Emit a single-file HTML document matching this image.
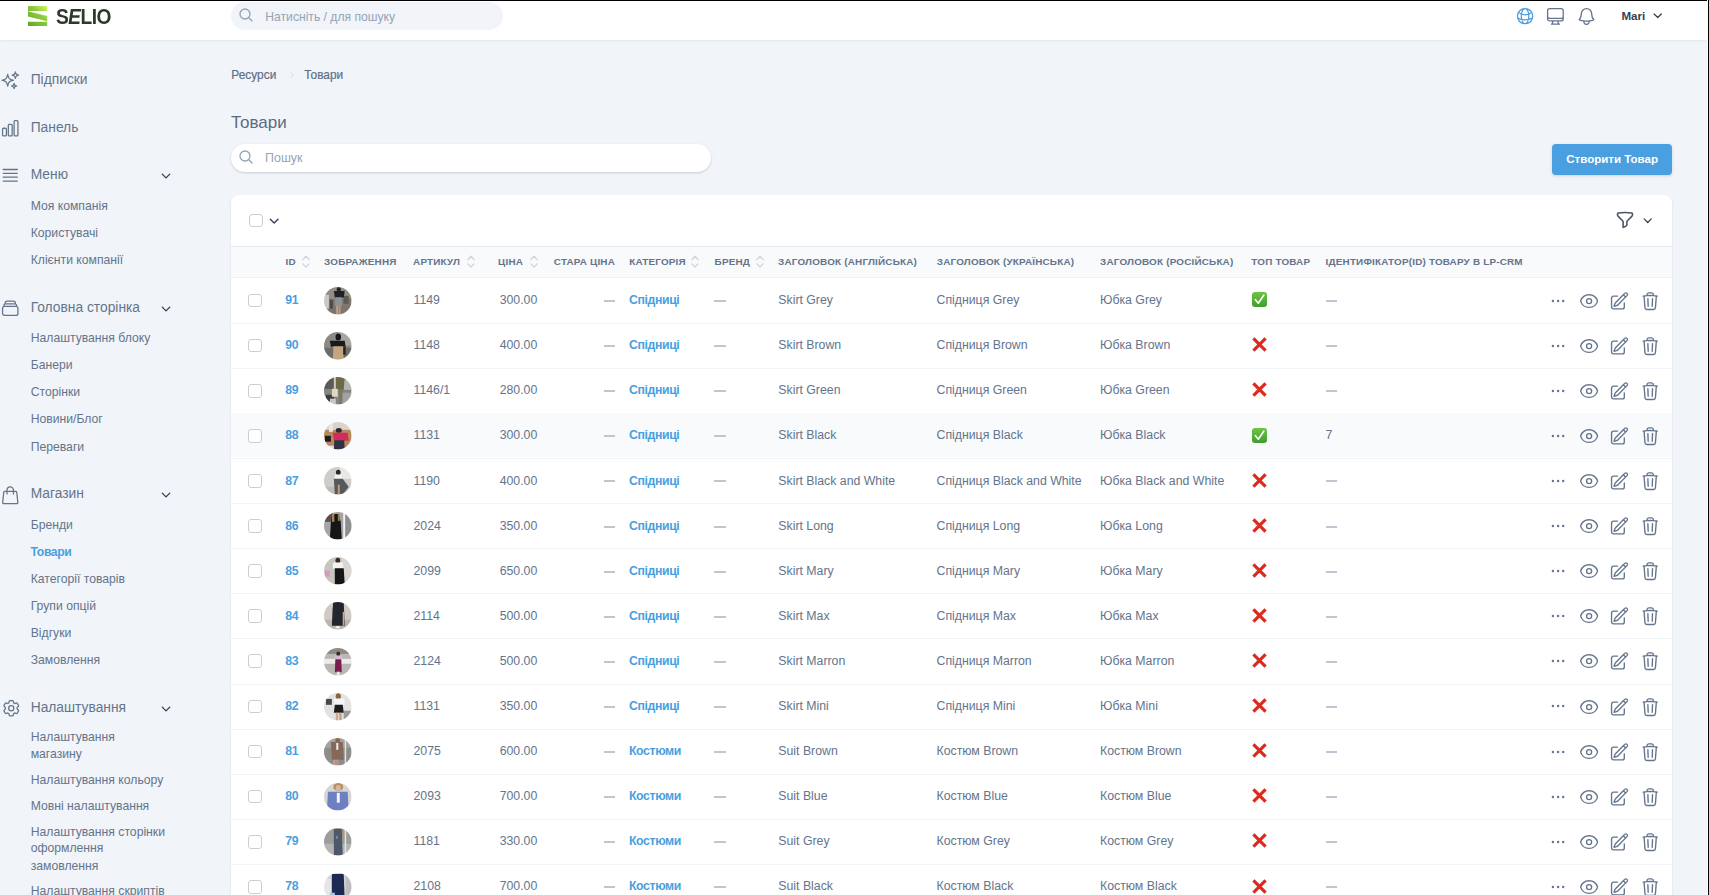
<!DOCTYPE html><html><head><meta charset="utf-8"><style>*{box-sizing:border-box;margin:0;padding:0}
html,body{width:1709px;height:895px;overflow:hidden;background:#f1f5f9;font-family:"Liberation Sans",sans-serif}
.t{position:absolute;white-space:nowrap;line-height:1}
.i{position:absolute;overflow:visible}
.a{position:absolute}
</style></head><body><div class="a" style="left:0;top:0;width:1709px;height:39.5px;background:#fff;box-shadow:0 1px 2px rgba(15,23,42,.06)"></div><svg class="i" style="left:28px;top:6px;width:19.5px;height:20px" viewBox="0 0 19.5 20">
<defs><linearGradient id="lg" x1="0" y1="1" x2="1" y2="0"><stop offset="0" stop-color="#5ea52c"/><stop offset=".6" stop-color="#8fcb3e"/><stop offset="1" stop-color="#d2f56a"/></linearGradient></defs>
<path fill="url(#lg)" d="M0 0H19.2V5H0zM0 5.2L19.2 10V15.2L0 10.4zM0 15.8H19.2V20H0z"/></svg><div class="t" style="left:56.30px;top:5.84px;font-size:21.8px;color:#2c3a29;font-weight:bold;letter-spacing:-0.6px;transform:scaleX(0.88);transform-origin:0 0;">S<span style="display:inline-block;transform:skewX(-10deg)">E</span>LIO</div><div class="a" style="left:231px;top:2px;width:272px;height:27.5px;border-radius:14px;background:#f1f5f9"></div><svg class="i" style="left:238.4px;top:6.6px;width:16px;height:16px;" viewBox="0 0 24 24" fill="none" stroke="#94a3b8" stroke-width="2" stroke-linecap="round" stroke-linejoin="round"><path d="M21 21l-5.197-5.197m0 0A7.5 7.5 0 105.196 5.196a7.5 7.5 0 0010.607 10.607z"/></svg><div class="t" style="left:265.30px;top:10.91px;font-size:12.15px;color:#94a3b8;">Натисніть / для пошуку</div><svg class="i" style="left:1515px;top:6.1px;width:20.2px;height:20.2px;" viewBox="0 0 24 24" fill="none" stroke="#4a9fe0" stroke-width="1.5" stroke-linecap="round" stroke-linejoin="round"><path d="M12 21a9.004 9.004 0 008.716-6.747M12 21a9.004 9.004 0 01-8.716-6.747M12 21c2.485 0 4.5-4.03 4.5-9S14.485 3 12 3m0 18c-2.485 0-4.5-4.03-4.5-9S9.515 3 12 3m0 0a8.997 8.997 0 017.843 4.582M12 3a8.997 8.997 0 00-7.843 4.582m15.686 0A11.953 11.953 0 0112 10.5c-2.998 0-5.74-1.1-7.843-2.918m15.686 0A8.959 8.959 0 0121 12c0 .778-.099 1.533-.284 2.253m0 0A17.919 17.919 0 0112 16.5c-3.162 0-6.133-.815-8.716-2.247m0 0A9.015 9.015 0 013 12c0-1.605.42-3.113 1.157-4.418"/></svg><svg class="i" style="left:1544.85px;top:6.05px;width:20.8px;height:20.8px;" viewBox="0 0 24 24" fill="none" stroke="#64748b" stroke-width="1.5" stroke-linecap="round" stroke-linejoin="round"><path d="M9 17.25v1.007a3 3 0 01-.879 2.122L7.5 21h9l-.621-.621A3 3 0 0115 18.257V17.25m6-12V15a2.25 2.25 0 01-2.25 2.25H5.25A2.25 2.25 0 013 15V5.25m18 0A2.25 2.25 0 0018.75 3H5.25A2.25 2.25 0 003 5.25m18 0V12a2.25 2.25 0 01-2.25 2.25H5.25A2.25 2.25 0 013 12V5.25"/></svg><svg class="i" style="left:1575.8px;top:6.03px;width:21px;height:21px;" viewBox="0 0 24 24" fill="none" stroke="#64748b" stroke-width="1.5" stroke-linecap="round" stroke-linejoin="round"><path d="M14.857 17.082a23.848 23.848 0 005.454-1.31A8.967 8.967 0 0118 9.75v-.7V9A6 6 0 006 9v.75a8.967 8.967 0 01-2.312 6.022c1.733.64 3.56 1.085 5.455 1.31m5.714 0a24.255 24.255 0 01-5.714 0m5.714 0a3 3 0 11-5.714 0"/></svg><div class="t" style="left:1621.40px;top:10.17px;font-size:11.6px;color:#334155;font-weight:bold;">Mari</div><svg class="i" style="left:1651.8px;top:10.3px;width:11.5px;height:11.5px;" viewBox="0 0 24 24" fill="none" stroke="#334155" stroke-width="2.6" stroke-linecap="round" stroke-linejoin="round"><path d="M19.5 8.25l-7.5 7.5-7.5-7.5"/></svg><svg class="i" style="left:0.32px;top:69.9px;width:20.5px;height:20.5px;" viewBox="0 0 24 24" fill="none" stroke="#64748b" stroke-width="1.5" stroke-linecap="round" stroke-linejoin="round"><path d="M9.813 15.904L9 18.75l-.813-2.846a4.5 4.5 0 00-3.09-3.09L2.25 12l2.846-.813a4.5 4.5 0 003.09-3.09L9 5.25l.813 2.846a4.5 4.5 0 003.09 3.09L15.75 12l-2.846.813a4.5 4.5 0 00-3.09 3.09zM18.259 8.715L18 9.75l-.259-1.035a3.375 3.375 0 00-2.455-2.456L14.25 6l1.036-.259a3.375 3.375 0 002.455-2.456L18 2.25l.259 1.035a3.375 3.375 0 002.456 2.456L21.75 6l-1.035.259a3.375 3.375 0 00-2.456 2.456zM16.894 20.567L16.5 21.75l-.394-1.183a2.25 2.25 0 00-1.423-1.423L13.5 18.75l1.183-.394a2.25 2.25 0 001.423-1.423l.394-1.183.394 1.183a2.25 2.25 0 001.423 1.423l1.183.394-1.183.394a2.25 2.25 0 00-1.423 1.423z"/></svg><div class="t" style="left:30.70px;top:72.91px;font-size:13.8px;color:#64748b;">Підписки</div><svg class="i" style="left:0.08px;top:117.8px;width:20.5px;height:20.5px;" viewBox="0 0 24 24" fill="none" stroke="#64748b" stroke-width="1.5" stroke-linecap="round" stroke-linejoin="round"><path d="M3 13.125C3 12.504 3.504 12 4.125 12h2.25c.621 0 1.125.504 1.125 1.125v6.75C7.5 20.496 6.996 21 6.375 21h-2.25A1.125 1.125 0 013 19.875v-6.75zM9.75 8.625c0-.621.504-1.125 1.125-1.125h2.25c.621 0 1.125.504 1.125 1.125v11.25c0 .621-.504 1.125-1.125 1.125h-2.25a1.125 1.125 0 01-1.125-1.125V8.625zM16.5 4.125c0-.621.504-1.125 1.125-1.125h2.25C20.496 3 21 3.504 21 4.125v15.75c0 .621-.504 1.125-1.125 1.125h-2.25a1.125 1.125 0 01-1.125-1.125V4.125z"/></svg><div class="t" style="left:30.70px;top:120.51px;font-size:13.8px;color:#64748b;">Панель</div><svg class="i" style="left:0.44px;top:164.8px;width:20.5px;height:20.5px;" viewBox="0 0 24 24" fill="none" stroke="#64748b" stroke-width="1.5" stroke-linecap="round" stroke-linejoin="round"><path d="M3.75 5.25h16.5m-16.5 4.5h16.5m-16.5 4.5h16.5m-16.5 4.5h16.5"/></svg><div class="t" style="left:30.70px;top:167.91px;font-size:13.8px;color:#64748b;">Меню</div><svg class="i" style="left:160.05px;top:169.9px;width:12px;height:12px;" viewBox="0 0 24 24" fill="none" stroke="#334155" stroke-width="2.8" stroke-linecap="round" stroke-linejoin="round"><path d="M19.5 8.25l-7.5 7.5-7.5-7.5"/></svg><div class="t" style="left:30.70px;top:199.67px;font-size:12.2px;color:#64748b;">Моя компанія</div><div class="t" style="left:30.70px;top:227.07px;font-size:12.2px;color:#64748b;">Користувачі</div><div class="t" style="left:30.70px;top:254.07px;font-size:12.2px;color:#64748b;">Клієнти компанії</div><svg class="i" style="left:0.28px;top:297.8px;width:20.5px;height:20.5px;" viewBox="0 0 24 24" fill="none" stroke="#64748b" stroke-width="1.5" stroke-linecap="round" stroke-linejoin="round"><path d="M6 6.878V6a2.25 2.25 0 012.25-2.25h7.5A2.25 2.25 0 0118 6v.878m-12 0c.235-.083.487-.128.75-.128h10.5c.263 0 .515.045.75.128m-12 0A2.25 2.25 0 004.5 9v.878m13.5-3A2.25 2.25 0 0119.5 9v.878m0 0a2.246 2.246 0 00-.75-.128H5.25c-.263 0-.515.045-.75.128m15 0A2.25 2.25 0 0121 12v6a2.25 2.25 0 01-2.25 2.25H5.25A2.25 2.25 0 013 18v-6c0-.98.626-1.813 1.5-2.122"/></svg><div class="t" style="left:30.70px;top:300.81px;font-size:13.8px;color:#64748b;">Головна сторінка</div><svg class="i" style="left:160.05px;top:302.79999999999995px;width:12px;height:12px;" viewBox="0 0 24 24" fill="none" stroke="#334155" stroke-width="2.8" stroke-linecap="round" stroke-linejoin="round"><path d="M19.5 8.25l-7.5 7.5-7.5-7.5"/></svg><div class="t" style="left:30.70px;top:331.87px;font-size:12.2px;color:#64748b;">Налаштування блоку</div><div class="t" style="left:30.70px;top:359.17px;font-size:12.2px;color:#64748b;">Банери</div><div class="t" style="left:30.70px;top:385.97px;font-size:12.2px;color:#64748b;">Сторінки</div><div class="t" style="left:30.70px;top:413.27px;font-size:12.2px;color:#64748b;">Новини/Блог</div><div class="t" style="left:30.70px;top:440.67px;font-size:12.2px;color:#64748b;">Переваги</div><svg class="i" style="left:0.15px;top:484.7px;width:20.5px;height:20.5px;" viewBox="0 0 24 24" fill="none" stroke="#64748b" stroke-width="1.5" stroke-linecap="round" stroke-linejoin="round"><path d="M15.75 10.5V6a3.75 3.75 0 10-7.5 0v4.5m11.356-1.993l1.263 12c.07.665-.45 1.243-1.119 1.243H4.25a1.125 1.125 0 01-1.12-1.243l1.264-12A1.125 1.125 0 015.513 7.5h12.974c.576 0 1.059.435 1.119 1.007z"/></svg><div class="t" style="left:30.70px;top:486.81px;font-size:13.8px;color:#64748b;">Магазин</div><svg class="i" style="left:160.05px;top:488.79999999999995px;width:12px;height:12px;" viewBox="0 0 24 24" fill="none" stroke="#334155" stroke-width="2.8" stroke-linecap="round" stroke-linejoin="round"><path d="M19.5 8.25l-7.5 7.5-7.5-7.5"/></svg><div class="t" style="left:30.70px;top:518.97px;font-size:12.2px;color:#64748b;">Бренди</div><div class="t" style="left:30.60px;top:545.77px;font-size:12.2px;color:#4a9fe0;font-weight:bold;letter-spacing:-0.4px;">Товари</div><div class="t" style="left:30.70px;top:572.97px;font-size:12.2px;color:#64748b;">Категорії товарів</div><div class="t" style="left:30.70px;top:599.77px;font-size:12.2px;color:#64748b;">Групи опцій</div><div class="t" style="left:30.70px;top:627.37px;font-size:12.2px;color:#64748b;">Відгуки</div><div class="t" style="left:30.70px;top:654.37px;font-size:12.2px;color:#64748b;">Замовлення</div><svg class="i" style="left:0.53px;top:697.9px;width:20.5px;height:20.5px;" viewBox="0 0 24 24" fill="none" stroke="#64748b" stroke-width="1.5" stroke-linecap="round" stroke-linejoin="round"><path d="M9.594 3.94c.09-.542.56-.94 1.11-.94h2.593c.55 0 1.02.398 1.11.94l.213 1.281c.063.374.313.686.645.87.074.04.147.083.22.127.324.196.72.257 1.075.124l1.217-.456a1.125 1.125 0 011.37.49l1.296 2.247a1.125 1.125 0 01-.26 1.431l-1.003.827c-.293.24-.438.613-.431.992a6.759 6.759 0 010 .255c-.007.378.138.75.43.99l1.005.828c.424.35.534.954.26 1.43l-1.298 2.247a1.125 1.125 0 01-1.369.491l-1.217-.456c-.355-.133-.75-.072-1.076.124a6.57 6.57 0 01-.22.128c-.331.183-.581.495-.644.869l-.213 1.28c-.09.543-.56.941-1.11.941h-2.594c-.55 0-1.02-.398-1.11-.94l-.213-1.281c-.062-.374-.312-.686-.644-.87a6.52 6.52 0 01-.22-.127c-.325-.196-.72-.257-1.076-.124l-1.217.456a1.125 1.125 0 01-1.369-.49l-1.297-2.247a1.125 1.125 0 01.26-1.431l1.004-.827c.292-.24.437-.613.43-.992a6.932 6.932 0 010-.255c.007-.378-.138-.75-.43-.99l-1.004-.828a1.125 1.125 0 01-.26-1.43l1.297-2.247a1.125 1.125 0 011.37-.491l1.216.456c.356.133.751.072 1.076-.124.072-.044.146-.087.22-.128.332-.183.582-.495.644-.869l.214-1.281zM15 12a3 3 0 11-6 0 3 3 0 016 0z"/></svg><div class="t" style="left:30.70px;top:701.01px;font-size:13.8px;color:#64748b;">Налаштування</div><svg class="i" style="left:160.05px;top:703.0px;width:12px;height:12px;" viewBox="0 0 24 24" fill="none" stroke="#334155" stroke-width="2.8" stroke-linecap="round" stroke-linejoin="round"><path d="M19.5 8.25l-7.5 7.5-7.5-7.5"/></svg><div class="t" style="left:30.70px;top:731.07px;font-size:12.2px;color:#64748b;">Налаштування</div><div class="t" style="left:30.70px;top:747.97px;font-size:12.2px;color:#64748b;">магазину</div><div class="t" style="left:30.70px;top:773.57px;font-size:12.2px;color:#64748b;">Налаштування кольору</div><div class="t" style="left:30.70px;top:800.17px;font-size:12.2px;color:#64748b;">Мовні налаштування</div><div class="t" style="left:30.70px;top:825.77px;font-size:12.2px;color:#64748b;">Налаштування сторінки</div><div class="t" style="left:30.70px;top:842.47px;font-size:12.2px;color:#64748b;">оформлення</div><div class="t" style="left:30.70px;top:859.57px;font-size:12.2px;color:#64748b;">замовлення</div><div class="t" style="left:30.70px;top:885.27px;font-size:12.2px;color:#64748b;">Налаштування скриптів</div><div class="t" style="left:231.30px;top:69.92px;font-size:11.9px;color:#5f6f86;-webkit-text-stroke:0.2px #5f6f86;">Ресурси</div><svg class="i" style="left:287.5px;top:70.5px;width:8px;height:8px;" viewBox="0 0 24 24" fill="none" stroke="#cbd5e1" stroke-width="2.5" stroke-linecap="round" stroke-linejoin="round"><path d="M8.25 4.5l7.5 7.5-7.5 7.5"/></svg><div class="t" style="left:304.20px;top:69.62px;font-size:11.9px;color:#5f6f86;-webkit-text-stroke:0.2px #5f6f86;">Товари</div><div class="t" style="left:230.90px;top:114.10px;font-size:17px;color:#5b6b82;">Товари</div><div class="a" style="left:231px;top:144.4px;width:480.4px;height:27.2px;border-radius:14px;background:#fff;box-shadow:0 1px 3px rgba(15,23,42,.12),0 1px 2px rgba(15,23,42,.06)"></div><svg class="i" style="left:238.4px;top:148.9px;width:16px;height:16px;" viewBox="0 0 24 24" fill="none" stroke="#94a3b8" stroke-width="2" stroke-linecap="round" stroke-linejoin="round"><path d="M21 21l-5.197-5.197m0 0A7.5 7.5 0 105.196 5.196a7.5 7.5 0 0010.607 10.607z"/></svg><div class="t" style="left:265.10px;top:151.60px;font-size:12.4px;color:#94a3b8;">Пошук</div><div class="a" style="left:1552.3px;top:143.8px;width:119.5px;height:30.9px;border-radius:4px;background:#4a9fe0;box-shadow:0 1px 3px rgba(15,23,42,.15)"></div><div class="t" style="left:1566.30px;top:153.84px;font-size:11.52px;color:#fff;font-weight:bold;">Створити Товар</div><div class="a" style="left:231px;top:195px;width:1441px;height:720px;border-radius:8px;background:#fff;box-shadow:0 1px 3px rgba(15,23,42,.08),0 1px 2px rgba(15,23,42,.04);overflow:hidden"><div class="a" style="left:0;top:50.5px;width:100%;height:32px;background:#f8fafc;border-top:1px solid #e5e9ef;border-bottom:1px solid #eef2f6"></div></div><div class="a" style="left:249.0px;top:213.6px;width:13.8px;height:13.8px;border:1.3px solid #cbcfd4;border-radius:3px;background:#fff"></div><svg class="i" style="left:268.4px;top:215.2px;width:12.3px;height:12.3px;" viewBox="0 0 24 24" fill="none" stroke="#334155" stroke-width="2.6" stroke-linecap="round" stroke-linejoin="round"><path d="M19.5 8.25l-7.5 7.5-7.5-7.5"/></svg><svg class="i" style="left:1615px;top:209.8px;width:20px;height:20px;" viewBox="0 0 24 24" fill="none" stroke="#4b5563" stroke-width="1.9" stroke-linecap="round" stroke-linejoin="round"><path d="M12 3c2.755 0 5.455.232 8.083.678.533.09.917.556.917 1.096v1.044a2.25 2.25 0 01-.659 1.591l-5.432 5.432a2.25 2.25 0 00-.659 1.591v2.927a2.25 2.25 0 01-1.244 2.013L9.75 21v-6.568a2.25 2.25 0 00-.659-1.591L3.659 7.409A2.25 2.25 0 013 5.818V4.774c0-.54.384-1.006.917-1.096A48.32 48.32 0 0112 3z"/></svg><svg class="i" style="left:1641.6px;top:215.2px;width:11.45px;height:11.45px;" viewBox="0 0 24 24" fill="none" stroke="#334155" stroke-width="2.6" stroke-linecap="round" stroke-linejoin="round"><path d="M19.5 8.25l-7.5 7.5-7.5-7.5"/></svg><div class="t" style="left:285.50px;top:256.91px;font-size:9.9px;color:#64748b;font-weight:bold;letter-spacing:0.2px;">ID</div><svg class="i" style="left:302.3px;top:255px;width:8px;height:13px" viewBox="0 0 8 13" fill="none" stroke="#cbd5e1" stroke-width="1.3" stroke-linecap="round" stroke-linejoin="round"><path d="M.9 4.5L4 1.3 7.1 4.5M.9 8.9L4 12 7.1 8.9"/></svg><div class="t" style="left:324.00px;top:256.91px;font-size:9.9px;color:#64748b;font-weight:bold;letter-spacing:0.2px;">ЗОБРАЖЕННЯ</div><div class="t" style="left:413.10px;top:256.91px;font-size:9.9px;color:#64748b;font-weight:bold;letter-spacing:0.2px;">АРТИКУЛ</div><svg class="i" style="left:467.2px;top:255px;width:8px;height:13px" viewBox="0 0 8 13" fill="none" stroke="#cbd5e1" stroke-width="1.3" stroke-linecap="round" stroke-linejoin="round"><path d="M.9 4.5L4 1.3 7.1 4.5M.9 8.9L4 12 7.1 8.9"/></svg><div class="t" style="left:498.10px;top:256.91px;font-size:9.9px;color:#64748b;font-weight:bold;letter-spacing:0.2px;">ЦІНА</div><svg class="i" style="left:530.2px;top:255px;width:8px;height:13px" viewBox="0 0 8 13" fill="none" stroke="#cbd5e1" stroke-width="1.3" stroke-linecap="round" stroke-linejoin="round"><path d="M.9 4.5L4 1.3 7.1 4.5M.9 8.9L4 12 7.1 8.9"/></svg><div class="t" style="left:553.80px;top:256.91px;font-size:9.9px;color:#64748b;font-weight:bold;letter-spacing:0.2px;">СТАРА ЦІНА</div><div class="t" style="left:629.20px;top:256.91px;font-size:9.9px;color:#64748b;font-weight:bold;letter-spacing:0.2px;">КАТЕГОРІЯ</div><svg class="i" style="left:691px;top:255px;width:8px;height:13px" viewBox="0 0 8 13" fill="none" stroke="#cbd5e1" stroke-width="1.3" stroke-linecap="round" stroke-linejoin="round"><path d="M.9 4.5L4 1.3 7.1 4.5M.9 8.9L4 12 7.1 8.9"/></svg><div class="t" style="left:714.60px;top:256.91px;font-size:9.9px;color:#64748b;font-weight:bold;letter-spacing:0.2px;">БРЕНД</div><svg class="i" style="left:756.1px;top:255px;width:8px;height:13px" viewBox="0 0 8 13" fill="none" stroke="#cbd5e1" stroke-width="1.3" stroke-linecap="round" stroke-linejoin="round"><path d="M.9 4.5L4 1.3 7.1 4.5M.9 8.9L4 12 7.1 8.9"/></svg><div class="t" style="left:778.10px;top:256.91px;font-size:9.9px;color:#64748b;font-weight:bold;letter-spacing:0.2px;">ЗАГОЛОВОК (АНГЛІЙСЬКА)</div><div class="t" style="left:936.80px;top:256.91px;font-size:9.9px;color:#64748b;font-weight:bold;letter-spacing:0.2px;">ЗАГОЛОВОК (УКРАЇНСЬКА)</div><div class="t" style="left:1100.00px;top:256.91px;font-size:9.9px;color:#64748b;font-weight:bold;letter-spacing:0.2px;">ЗАГОЛОВОК (РОСІЙСЬКА)</div><div class="t" style="left:1251.30px;top:256.91px;font-size:9.9px;color:#64748b;font-weight:bold;letter-spacing:0.2px;">ТОП ТОВАР</div><div class="t" style="left:1325.60px;top:256.91px;font-size:9.9px;color:#64748b;font-weight:bold;letter-spacing:0.2px;">ІДЕНТИФІКАТОР(ID) ТОВАРУ В LP-CRM</div><div class="a" style="left:231px;top:322.70px;width:1441px;height:1px;background:#f1f4f8"></div><div class="a" style="left:248.1px;top:293.6px;width:13.8px;height:13.8px;border:1.3px solid #cbcfd4;border-radius:3px;background:#fff"></div><div class="t" style="left:285.20px;top:294.18px;font-size:12.3px;color:#4a9fe0;font-weight:bold;letter-spacing:-0.3px;">91</div><svg class="i" style="left:324px;top:286.70px;width:27.6px;height:27.6px" viewBox="0 0 28 28"><defs><clipPath id="c0"><circle cx="14" cy="14" r="14"/></clipPath><filter id="f0" x="-10%" y="-10%" width="120%" height="120%"><feGaussianBlur stdDeviation="0.45"/></filter></defs><g clip-path="url(#c0)"><g filter="url(#f0)"><rect x="0" y="0" width="28" height="28" fill="#7b766d"/><rect x="0" y="0" width="28" height="12" fill="#928e84"/><rect x="0" y="8" width="5" height="14" fill="#c9c9c9"/><rect x="20" y="9" width="5" height="8" fill="#5f5c56"/><ellipse cx="15" cy="2.5" rx="2.2" ry="2.6" fill="#2a2220"/><path d="M10 4h11l-1 7h-9z" fill="#1e2128"/><path d="M11.5 10.5h6.5l.5 8.5h-7.5z" fill="#8e9398"/><rect x="12.5" y="19" width="2" height="9" fill="#c6a38c"/><rect x="15" y="19" width="2" height="9" fill="#b8947e"/><rect x="6" y="13" width="3" height="9" fill="#4c4b48"/></g></g></svg><div class="t" style="left:413.50px;top:294.18px;font-size:12.3px;color:#64748b;">1149</div><div class="t" style="left:499.70px;top:294.18px;font-size:12.3px;color:#64748b;">300.00</div><div class="a" style="left:603.7px;top:300px;width:11.6px;height:2px;background:#bfc6d1"></div><div class="t" style="left:629.00px;top:294.18px;font-size:12.3px;color:#4a9fe0;font-weight:bold;letter-spacing:-0.39px;">Спідниці</div><div class="a" style="left:714.0px;top:300px;width:11.6px;height:2px;background:#bfc6d1"></div><div class="t" style="left:778.30px;top:294.18px;font-size:12.3px;color:#64748b;">Skirt Grey</div><div class="t" style="left:936.50px;top:294.18px;font-size:12.3px;color:#64748b;">Спідниця Grey</div><div class="t" style="left:1100.00px;top:294.18px;font-size:12.3px;color:#64748b;">Юбка Grey</div><svg class="i" style="left:1252px;top:292.20px;width:15px;height:15px" viewBox="0 0 15 15"><defs><linearGradient id="gg0" x1="0" y1="0" x2="0" y2="1"><stop offset="0" stop-color="#6cc545"/><stop offset="1" stop-color="#3f9d2c"/></linearGradient></defs><rect x="0" y="0" width="15" height="15" rx="3" fill="url(#gg0)"/><path d="M3.3 7.6L6.3 11.3L11.8 3.2" fill="none" stroke="#fff" stroke-width="1.6" stroke-linecap="round" stroke-linejoin="round"/></svg><div class="a" style="left:1325.7px;top:300px;width:11.6px;height:2px;background:#bfc6d1"></div><svg class="i" style="left:1550px;top:298.50px;width:16px;height:4px" viewBox="0 0 16 4" fill="#64748b"><circle cx="2.9" cy="2" r="1.2"/><circle cx="8.1" cy="2" r="1.2"/><circle cx="13.2" cy="2" r="1.2"/></svg><svg class="i" style="left:1579.05px;top:290.64px;width:20.2px;height:20.2px;" viewBox="0 0 24 24" fill="none" stroke="#64748b" stroke-width="1.6" stroke-linecap="round" stroke-linejoin="round"><path d="M2.036 12.322a1.012 1.012 0 010-.639C3.423 7.51 7.36 4.5 12 4.5c4.638 0 8.573 3.007 9.963 7.178.07.207.07.431 0 .639C20.577 16.49 16.64 19.5 12 19.5c-4.638 0-8.573-3.007-9.963-7.178zM15 12a3 3 0 11-6 0 3 3 0 016 0z"/></svg><svg class="i" style="left:1608.99px;top:290.63px;width:20.4px;height:20.4px;" viewBox="0 0 24 24" fill="none" stroke="#64748b" stroke-width="1.6" stroke-linecap="round" stroke-linejoin="round"><path d="M16.862 4.487l1.687-1.688a1.875 1.875 0 112.652 2.652L10.582 16.07a4.5 4.5 0 01-1.897 1.13L6 18l.8-2.685a4.5 4.5 0 011.13-1.897l8.932-8.931zm0 0L19.5 7.125M18 14v4.75A2.25 2.25 0 0115.75 21H5.25A2.25 2.25 0 013 18.75V8.25A2.25 2.25 0 015.25 6H10"/></svg><svg class="i" style="left:1639.85px;top:290.6px;width:20.4px;height:20.4px;" viewBox="0 0 24 24" fill="none" stroke="#64748b" stroke-width="1.6" stroke-linecap="round" stroke-linejoin="round"><path d="M14.74 9l-.346 9m-4.788 0L9.26 9m9.968-3.21c.342.052.682.107 1.022.166m-1.022-.165L18.16 19.673a2.25 2.25 0 01-2.244 2.077H8.084a2.25 2.25 0 01-2.244-2.077L4.772 5.79m14.456 0a48.108 48.108 0 00-3.478-.397m-12 .562c.34-.059.68-.114 1.022-.165m0 0a48.11 48.11 0 013.478-.397m7.5 0v-.916c0-1.18-.91-2.164-2.09-2.201a51.964 51.964 0 00-3.32 0c-1.18.037-2.09 1.022-2.09 2.201v.916m7.5 0a48.667 48.667 0 00-7.5 0"/></svg><div class="a" style="left:231px;top:367.80px;width:1441px;height:1px;background:#f1f4f8"></div><div class="a" style="left:248.1px;top:338.70000000000005px;width:13.8px;height:13.8px;border:1.3px solid #cbcfd4;border-radius:3px;background:#fff"></div><div class="t" style="left:285.20px;top:339.28px;font-size:12.3px;color:#4a9fe0;font-weight:bold;letter-spacing:-0.3px;">90</div><svg class="i" style="left:324px;top:331.80px;width:27.6px;height:27.6px" viewBox="0 0 28 28"><defs><clipPath id="c1"><circle cx="14" cy="14" r="14"/></clipPath><filter id="f1" x="-10%" y="-10%" width="120%" height="120%"><feGaussianBlur stdDeviation="0.45"/></filter></defs><g clip-path="url(#c1)"><g filter="url(#f1)"><rect x="0" y="0" width="28" height="28" fill="#8b8984"/><rect x="14" y="0" width="14" height="14" fill="#a8a6a1"/><rect x="0" y="16" width="28" height="12" fill="#6e6c68"/><ellipse cx="14.5" cy="5" rx="2.8" ry="3.6" fill="#1c1718"/><path d="M6 9h15l1 6H7z" fill="#191a1f"/><path d="M9.5 14.5h10l.5 13.5h-11z" fill="#c4a57e"/><rect x="19.5" y="15" width="2.5" height="8" fill="#24252a"/></g></g></svg><div class="t" style="left:413.50px;top:339.28px;font-size:12.3px;color:#64748b;">1148</div><div class="t" style="left:499.70px;top:339.28px;font-size:12.3px;color:#64748b;">400.00</div><div class="a" style="left:603.7px;top:345px;width:11.6px;height:2px;background:#bfc6d1"></div><div class="t" style="left:629.00px;top:339.28px;font-size:12.3px;color:#4a9fe0;font-weight:bold;letter-spacing:-0.39px;">Спідниці</div><div class="a" style="left:714.0px;top:345px;width:11.6px;height:2px;background:#bfc6d1"></div><div class="t" style="left:778.30px;top:339.28px;font-size:12.3px;color:#64748b;">Skirt Brown</div><div class="t" style="left:936.50px;top:339.28px;font-size:12.3px;color:#64748b;">Спідниця Brown</div><div class="t" style="left:1100.00px;top:339.28px;font-size:12.3px;color:#64748b;">Юбка Brown</div><svg class="i" style="left:1252px;top:337.30px;width:15px;height:15px" viewBox="0 0 15 15"><path d="M1.4 1.4L13.6 13.6M13.6 1.4L1.4 13.6" stroke="#dc2b1e" stroke-width="3.2"/></svg><div class="a" style="left:1325.7px;top:345px;width:11.6px;height:2px;background:#bfc6d1"></div><svg class="i" style="left:1550px;top:343.60px;width:16px;height:4px" viewBox="0 0 16 4" fill="#64748b"><circle cx="2.9" cy="2" r="1.2"/><circle cx="8.1" cy="2" r="1.2"/><circle cx="13.2" cy="2" r="1.2"/></svg><svg class="i" style="left:1579.05px;top:335.74px;width:20.2px;height:20.2px;" viewBox="0 0 24 24" fill="none" stroke="#64748b" stroke-width="1.6" stroke-linecap="round" stroke-linejoin="round"><path d="M2.036 12.322a1.012 1.012 0 010-.639C3.423 7.51 7.36 4.5 12 4.5c4.638 0 8.573 3.007 9.963 7.178.07.207.07.431 0 .639C20.577 16.49 16.64 19.5 12 19.5c-4.638 0-8.573-3.007-9.963-7.178zM15 12a3 3 0 11-6 0 3 3 0 016 0z"/></svg><svg class="i" style="left:1608.99px;top:335.73px;width:20.4px;height:20.4px;" viewBox="0 0 24 24" fill="none" stroke="#64748b" stroke-width="1.6" stroke-linecap="round" stroke-linejoin="round"><path d="M16.862 4.487l1.687-1.688a1.875 1.875 0 112.652 2.652L10.582 16.07a4.5 4.5 0 01-1.897 1.13L6 18l.8-2.685a4.5 4.5 0 011.13-1.897l8.932-8.931zm0 0L19.5 7.125M18 14v4.75A2.25 2.25 0 0115.75 21H5.25A2.25 2.25 0 013 18.75V8.25A2.25 2.25 0 015.25 6H10"/></svg><svg class="i" style="left:1639.85px;top:335.70000000000005px;width:20.4px;height:20.4px;" viewBox="0 0 24 24" fill="none" stroke="#64748b" stroke-width="1.6" stroke-linecap="round" stroke-linejoin="round"><path d="M14.74 9l-.346 9m-4.788 0L9.26 9m9.968-3.21c.342.052.682.107 1.022.166m-1.022-.165L18.16 19.673a2.25 2.25 0 01-2.244 2.077H8.084a2.25 2.25 0 01-2.244-2.077L4.772 5.79m14.456 0a48.108 48.108 0 00-3.478-.397m-12 .562c.34-.059.68-.114 1.022-.165m0 0a48.11 48.11 0 013.478-.397m7.5 0v-.916c0-1.18-.91-2.164-2.09-2.201a51.964 51.964 0 00-3.32 0c-1.18.037-2.09 1.022-2.09 2.201v.916m7.5 0a48.667 48.667 0 00-7.5 0"/></svg><div class="a" style="left:231px;top:412.90px;width:1441px;height:1px;background:#f1f4f8"></div><div class="a" style="left:248.1px;top:383.8px;width:13.8px;height:13.8px;border:1.3px solid #cbcfd4;border-radius:3px;background:#fff"></div><div class="t" style="left:285.20px;top:384.38px;font-size:12.3px;color:#4a9fe0;font-weight:bold;letter-spacing:-0.3px;">89</div><svg class="i" style="left:324px;top:376.90px;width:27.6px;height:27.6px" viewBox="0 0 28 28"><defs><clipPath id="c2"><circle cx="14" cy="14" r="14"/></clipPath><filter id="f2" x="-10%" y="-10%" width="120%" height="120%"><feGaussianBlur stdDeviation="0.45"/></filter></defs><g clip-path="url(#c2)"><g filter="url(#f2)"><rect x="0" y="0" width="28" height="28" fill="#858585"/><rect x="0" y="0" width="10" height="12" fill="#5a5a5a"/><rect x="20" y="3" width="8" height="10" fill="#b5b5b5"/><rect x="2" y="18" width="8" height="10" fill="#3a3a3a"/><rect x="18" y="16" width="10" height="12" fill="#a2a2a2"/><rect x="6" y="22" width="6" height="6" fill="#c8c8c8"/><path d="M11 0h10l-1 13h-8z" fill="#6c6a47"/><rect x="10" y="0" width="2" height="12" fill="#d8cbb5"/><rect x="8" y="12" width="6" height="8" fill="#e2d8c2"/><path d="M15 13h4l-.5 15h-3z" fill="#7c7a5c"/></g></g></svg><div class="t" style="left:413.50px;top:384.38px;font-size:12.3px;color:#64748b;">1146/1</div><div class="t" style="left:499.70px;top:384.38px;font-size:12.3px;color:#64748b;">280.00</div><div class="a" style="left:603.7px;top:390px;width:11.6px;height:2px;background:#bfc6d1"></div><div class="t" style="left:629.00px;top:384.38px;font-size:12.3px;color:#4a9fe0;font-weight:bold;letter-spacing:-0.39px;">Спідниці</div><div class="a" style="left:714.0px;top:390px;width:11.6px;height:2px;background:#bfc6d1"></div><div class="t" style="left:778.30px;top:384.38px;font-size:12.3px;color:#64748b;">Skirt Green</div><div class="t" style="left:936.50px;top:384.38px;font-size:12.3px;color:#64748b;">Спідниця Green</div><div class="t" style="left:1100.00px;top:384.38px;font-size:12.3px;color:#64748b;">Юбка Green</div><svg class="i" style="left:1252px;top:382.40px;width:15px;height:15px" viewBox="0 0 15 15"><path d="M1.4 1.4L13.6 13.6M13.6 1.4L1.4 13.6" stroke="#dc2b1e" stroke-width="3.2"/></svg><div class="a" style="left:1325.7px;top:390px;width:11.6px;height:2px;background:#bfc6d1"></div><svg class="i" style="left:1550px;top:388.70px;width:16px;height:4px" viewBox="0 0 16 4" fill="#64748b"><circle cx="2.9" cy="2" r="1.2"/><circle cx="8.1" cy="2" r="1.2"/><circle cx="13.2" cy="2" r="1.2"/></svg><svg class="i" style="left:1579.05px;top:380.84px;width:20.2px;height:20.2px;" viewBox="0 0 24 24" fill="none" stroke="#64748b" stroke-width="1.6" stroke-linecap="round" stroke-linejoin="round"><path d="M2.036 12.322a1.012 1.012 0 010-.639C3.423 7.51 7.36 4.5 12 4.5c4.638 0 8.573 3.007 9.963 7.178.07.207.07.431 0 .639C20.577 16.49 16.64 19.5 12 19.5c-4.638 0-8.573-3.007-9.963-7.178zM15 12a3 3 0 11-6 0 3 3 0 016 0z"/></svg><svg class="i" style="left:1608.99px;top:380.83px;width:20.4px;height:20.4px;" viewBox="0 0 24 24" fill="none" stroke="#64748b" stroke-width="1.6" stroke-linecap="round" stroke-linejoin="round"><path d="M16.862 4.487l1.687-1.688a1.875 1.875 0 112.652 2.652L10.582 16.07a4.5 4.5 0 01-1.897 1.13L6 18l.8-2.685a4.5 4.5 0 011.13-1.897l8.932-8.931zm0 0L19.5 7.125M18 14v4.75A2.25 2.25 0 0115.75 21H5.25A2.25 2.25 0 013 18.75V8.25A2.25 2.25 0 015.25 6H10"/></svg><svg class="i" style="left:1639.85px;top:380.8px;width:20.4px;height:20.4px;" viewBox="0 0 24 24" fill="none" stroke="#64748b" stroke-width="1.6" stroke-linecap="round" stroke-linejoin="round"><path d="M14.74 9l-.346 9m-4.788 0L9.26 9m9.968-3.21c.342.052.682.107 1.022.166m-1.022-.165L18.16 19.673a2.25 2.25 0 01-2.244 2.077H8.084a2.25 2.25 0 01-2.244-2.077L4.772 5.79m14.456 0a48.108 48.108 0 00-3.478-.397m-12 .562c.34-.059.68-.114 1.022-.165m0 0a48.11 48.11 0 013.478-.397m7.5 0v-.916c0-1.18-.91-2.164-2.09-2.201a51.964 51.964 0 00-3.32 0c-1.18.037-2.09 1.022-2.09 2.201v.916m7.5 0a48.667 48.667 0 00-7.5 0"/></svg><div class="a" style="left:231px;top:413.40px;width:1441px;height:44.10px;background:#f8fafc"></div><div class="a" style="left:231px;top:458.00px;width:1441px;height:1px;background:#f1f4f8"></div><div class="a" style="left:248.1px;top:428.90000000000003px;width:13.8px;height:13.8px;border:1.3px solid #cbcfd4;border-radius:3px;background:#fff"></div><div class="t" style="left:285.20px;top:429.48px;font-size:12.3px;color:#4a9fe0;font-weight:bold;letter-spacing:-0.3px;">88</div><svg class="i" style="left:324px;top:422.00px;width:27.6px;height:27.6px" viewBox="0 0 28 28"><defs><clipPath id="c3"><circle cx="14" cy="14" r="14"/></clipPath><filter id="f3" x="-10%" y="-10%" width="120%" height="120%"><feGaussianBlur stdDeviation="0.45"/></filter></defs><g clip-path="url(#c3)"><g filter="url(#f3)"><rect x="0" y="0" width="28" height="28" fill="#b6895a"/><rect x="0" y="0" width="28" height="8" fill="#d8d4cc"/><rect x="5" y="0" width="4" height="10" fill="#e8e6e0"/><rect x="1" y="14" width="6" height="6" fill="#1b1b1b"/><ellipse cx="15" cy="8.5" rx="3" ry="2.4" fill="#2b2b33"/><path d="M9 11h15l1 8H10z" fill="#d42a5c"/><path d="M10.5 18.5h10l.5 9.5h-11z" fill="#2d3242"/><rect x="4" y="24" width="6" height="4" fill="#e0e0e0"/></g></g></svg><div class="t" style="left:413.50px;top:429.48px;font-size:12.3px;color:#64748b;">1131</div><div class="t" style="left:499.70px;top:429.48px;font-size:12.3px;color:#64748b;">300.00</div><div class="a" style="left:603.7px;top:435px;width:11.6px;height:2px;background:#bfc6d1"></div><div class="t" style="left:629.00px;top:429.48px;font-size:12.3px;color:#4a9fe0;font-weight:bold;letter-spacing:-0.39px;">Спідниці</div><div class="a" style="left:714.0px;top:435px;width:11.6px;height:2px;background:#bfc6d1"></div><div class="t" style="left:778.30px;top:429.48px;font-size:12.3px;color:#64748b;">Skirt Black</div><div class="t" style="left:936.50px;top:429.48px;font-size:12.3px;color:#64748b;">Спідниця Black</div><div class="t" style="left:1100.00px;top:429.48px;font-size:12.3px;color:#64748b;">Юбка Black</div><svg class="i" style="left:1252px;top:427.50px;width:15px;height:15px" viewBox="0 0 15 15"><defs><linearGradient id="gg3" x1="0" y1="0" x2="0" y2="1"><stop offset="0" stop-color="#6cc545"/><stop offset="1" stop-color="#3f9d2c"/></linearGradient></defs><rect x="0" y="0" width="15" height="15" rx="3" fill="url(#gg3)"/><path d="M3.3 7.6L6.3 11.3L11.8 3.2" fill="none" stroke="#fff" stroke-width="1.6" stroke-linecap="round" stroke-linejoin="round"/></svg><div class="t" style="left:1325.50px;top:429.48px;font-size:12.3px;color:#64748b;">7</div><svg class="i" style="left:1550px;top:433.80px;width:16px;height:4px" viewBox="0 0 16 4" fill="#64748b"><circle cx="2.9" cy="2" r="1.2"/><circle cx="8.1" cy="2" r="1.2"/><circle cx="13.2" cy="2" r="1.2"/></svg><svg class="i" style="left:1579.05px;top:425.94px;width:20.2px;height:20.2px;" viewBox="0 0 24 24" fill="none" stroke="#64748b" stroke-width="1.6" stroke-linecap="round" stroke-linejoin="round"><path d="M2.036 12.322a1.012 1.012 0 010-.639C3.423 7.51 7.36 4.5 12 4.5c4.638 0 8.573 3.007 9.963 7.178.07.207.07.431 0 .639C20.577 16.49 16.64 19.5 12 19.5c-4.638 0-8.573-3.007-9.963-7.178zM15 12a3 3 0 11-6 0 3 3 0 016 0z"/></svg><svg class="i" style="left:1608.99px;top:425.93px;width:20.4px;height:20.4px;" viewBox="0 0 24 24" fill="none" stroke="#64748b" stroke-width="1.6" stroke-linecap="round" stroke-linejoin="round"><path d="M16.862 4.487l1.687-1.688a1.875 1.875 0 112.652 2.652L10.582 16.07a4.5 4.5 0 01-1.897 1.13L6 18l.8-2.685a4.5 4.5 0 011.13-1.897l8.932-8.931zm0 0L19.5 7.125M18 14v4.75A2.25 2.25 0 0115.75 21H5.25A2.25 2.25 0 013 18.75V8.25A2.25 2.25 0 015.25 6H10"/></svg><svg class="i" style="left:1639.85px;top:425.90000000000003px;width:20.4px;height:20.4px;" viewBox="0 0 24 24" fill="none" stroke="#64748b" stroke-width="1.6" stroke-linecap="round" stroke-linejoin="round"><path d="M14.74 9l-.346 9m-4.788 0L9.26 9m9.968-3.21c.342.052.682.107 1.022.166m-1.022-.165L18.16 19.673a2.25 2.25 0 01-2.244 2.077H8.084a2.25 2.25 0 01-2.244-2.077L4.772 5.79m14.456 0a48.108 48.108 0 00-3.478-.397m-12 .562c.34-.059.68-.114 1.022-.165m0 0a48.11 48.11 0 013.478-.397m7.5 0v-.916c0-1.18-.91-2.164-2.09-2.201a51.964 51.964 0 00-3.32 0c-1.18.037-2.09 1.022-2.09 2.201v.916m7.5 0a48.667 48.667 0 00-7.5 0"/></svg><div class="a" style="left:231px;top:503.10px;width:1441px;height:1px;background:#f1f4f8"></div><div class="a" style="left:248.1px;top:474.0px;width:13.8px;height:13.8px;border:1.3px solid #cbcfd4;border-radius:3px;background:#fff"></div><div class="t" style="left:285.20px;top:474.58px;font-size:12.3px;color:#4a9fe0;font-weight:bold;letter-spacing:-0.3px;">87</div><svg class="i" style="left:324px;top:467.10px;width:27.6px;height:27.6px" viewBox="0 0 28 28"><defs><clipPath id="c4"><circle cx="14" cy="14" r="14"/></clipPath><filter id="f4" x="-10%" y="-10%" width="120%" height="120%"><feGaussianBlur stdDeviation="0.45"/></filter></defs><g clip-path="url(#c4)"><g filter="url(#f4)"><rect x="0" y="0" width="28" height="28" fill="#cdcdca"/><rect x="16" y="0" width="12" height="12" fill="#e8e8e4"/><rect x="0" y="20" width="28" height="8" fill="#bdbdb8"/><ellipse cx="14.5" cy="5.5" rx="2.4" ry="2.8" fill="#2e2622"/><path d="M11 7.5h7l.5 5h-8z" fill="#f2f2f2"/><path d="M10 12h9l6 8-6 8h-8z" fill="#57585c"/><rect x="14" y="18" width="2" height="10" fill="#c49a82"/></g></g></svg><div class="t" style="left:413.50px;top:474.58px;font-size:12.3px;color:#64748b;">1190</div><div class="t" style="left:499.70px;top:474.58px;font-size:12.3px;color:#64748b;">400.00</div><div class="a" style="left:603.7px;top:480px;width:11.6px;height:2px;background:#bfc6d1"></div><div class="t" style="left:629.00px;top:474.58px;font-size:12.3px;color:#4a9fe0;font-weight:bold;letter-spacing:-0.39px;">Спідниці</div><div class="a" style="left:714.0px;top:480px;width:11.6px;height:2px;background:#bfc6d1"></div><div class="t" style="left:778.30px;top:474.58px;font-size:12.3px;color:#64748b;">Skirt Black and White</div><div class="t" style="left:936.50px;top:474.58px;font-size:12.3px;color:#64748b;">Спідниця Black and White</div><div class="t" style="left:1100.00px;top:474.58px;font-size:12.3px;color:#64748b;">Юбка Black and White</div><svg class="i" style="left:1252px;top:472.60px;width:15px;height:15px" viewBox="0 0 15 15"><path d="M1.4 1.4L13.6 13.6M13.6 1.4L1.4 13.6" stroke="#dc2b1e" stroke-width="3.2"/></svg><div class="a" style="left:1325.7px;top:480px;width:11.6px;height:2px;background:#bfc6d1"></div><svg class="i" style="left:1550px;top:478.90px;width:16px;height:4px" viewBox="0 0 16 4" fill="#64748b"><circle cx="2.9" cy="2" r="1.2"/><circle cx="8.1" cy="2" r="1.2"/><circle cx="13.2" cy="2" r="1.2"/></svg><svg class="i" style="left:1579.05px;top:471.03999999999996px;width:20.2px;height:20.2px;" viewBox="0 0 24 24" fill="none" stroke="#64748b" stroke-width="1.6" stroke-linecap="round" stroke-linejoin="round"><path d="M2.036 12.322a1.012 1.012 0 010-.639C3.423 7.51 7.36 4.5 12 4.5c4.638 0 8.573 3.007 9.963 7.178.07.207.07.431 0 .639C20.577 16.49 16.64 19.5 12 19.5c-4.638 0-8.573-3.007-9.963-7.178zM15 12a3 3 0 11-6 0 3 3 0 016 0z"/></svg><svg class="i" style="left:1608.99px;top:471.03px;width:20.4px;height:20.4px;" viewBox="0 0 24 24" fill="none" stroke="#64748b" stroke-width="1.6" stroke-linecap="round" stroke-linejoin="round"><path d="M16.862 4.487l1.687-1.688a1.875 1.875 0 112.652 2.652L10.582 16.07a4.5 4.5 0 01-1.897 1.13L6 18l.8-2.685a4.5 4.5 0 011.13-1.897l8.932-8.931zm0 0L19.5 7.125M18 14v4.75A2.25 2.25 0 0115.75 21H5.25A2.25 2.25 0 013 18.75V8.25A2.25 2.25 0 015.25 6H10"/></svg><svg class="i" style="left:1639.85px;top:471.0px;width:20.4px;height:20.4px;" viewBox="0 0 24 24" fill="none" stroke="#64748b" stroke-width="1.6" stroke-linecap="round" stroke-linejoin="round"><path d="M14.74 9l-.346 9m-4.788 0L9.26 9m9.968-3.21c.342.052.682.107 1.022.166m-1.022-.165L18.16 19.673a2.25 2.25 0 01-2.244 2.077H8.084a2.25 2.25 0 01-2.244-2.077L4.772 5.79m14.456 0a48.108 48.108 0 00-3.478-.397m-12 .562c.34-.059.68-.114 1.022-.165m0 0a48.11 48.11 0 013.478-.397m7.5 0v-.916c0-1.18-.91-2.164-2.09-2.201a51.964 51.964 0 00-3.32 0c-1.18.037-2.09 1.022-2.09 2.201v.916m7.5 0a48.667 48.667 0 00-7.5 0"/></svg><div class="a" style="left:231px;top:548.20px;width:1441px;height:1px;background:#f1f4f8"></div><div class="a" style="left:248.1px;top:519.1px;width:13.8px;height:13.8px;border:1.3px solid #cbcfd4;border-radius:3px;background:#fff"></div><div class="t" style="left:285.20px;top:519.68px;font-size:12.3px;color:#4a9fe0;font-weight:bold;letter-spacing:-0.3px;">86</div><svg class="i" style="left:324px;top:512.20px;width:27.6px;height:27.6px" viewBox="0 0 28 28"><defs><clipPath id="c5"><circle cx="14" cy="14" r="14"/></clipPath><filter id="f5" x="-10%" y="-10%" width="120%" height="120%"><feGaussianBlur stdDeviation="0.45"/></filter></defs><g clip-path="url(#c5)"><g filter="url(#f5)"><rect x="0" y="0" width="28" height="28" fill="#a5a5a5"/><rect x="0" y="0" width="9" height="10" fill="#555559"/><rect x="0" y="0" width="5" height="6" fill="#a8202c"/><rect x="21" y="0" width="7" height="28" fill="#8e8e8e"/><rect x="19.5" y="0" width="2" height="28" fill="#f0f0f0"/><path d="M8 2h6.5l2.5 8 1 18H6l1-18z" fill="#131318"/><rect x="8" y="2" width="2.5" height="8" fill="#a88458"/><rect x="14" y="2" width="2" height="7" fill="#9c7a50"/></g></g></svg><div class="t" style="left:413.50px;top:519.68px;font-size:12.3px;color:#64748b;">2024</div><div class="t" style="left:499.70px;top:519.68px;font-size:12.3px;color:#64748b;">350.00</div><div class="a" style="left:603.7px;top:526px;width:11.6px;height:2px;background:#bfc6d1"></div><div class="t" style="left:629.00px;top:519.68px;font-size:12.3px;color:#4a9fe0;font-weight:bold;letter-spacing:-0.39px;">Спідниці</div><div class="a" style="left:714.0px;top:526px;width:11.6px;height:2px;background:#bfc6d1"></div><div class="t" style="left:778.30px;top:519.68px;font-size:12.3px;color:#64748b;">Skirt Long</div><div class="t" style="left:936.50px;top:519.68px;font-size:12.3px;color:#64748b;">Спідниця Long</div><div class="t" style="left:1100.00px;top:519.68px;font-size:12.3px;color:#64748b;">Юбка Long</div><svg class="i" style="left:1252px;top:517.70px;width:15px;height:15px" viewBox="0 0 15 15"><path d="M1.4 1.4L13.6 13.6M13.6 1.4L1.4 13.6" stroke="#dc2b1e" stroke-width="3.2"/></svg><div class="a" style="left:1325.7px;top:526px;width:11.6px;height:2px;background:#bfc6d1"></div><svg class="i" style="left:1550px;top:524.00px;width:16px;height:4px" viewBox="0 0 16 4" fill="#64748b"><circle cx="2.9" cy="2" r="1.2"/><circle cx="8.1" cy="2" r="1.2"/><circle cx="13.2" cy="2" r="1.2"/></svg><svg class="i" style="left:1579.05px;top:516.14px;width:20.2px;height:20.2px;" viewBox="0 0 24 24" fill="none" stroke="#64748b" stroke-width="1.6" stroke-linecap="round" stroke-linejoin="round"><path d="M2.036 12.322a1.012 1.012 0 010-.639C3.423 7.51 7.36 4.5 12 4.5c4.638 0 8.573 3.007 9.963 7.178.07.207.07.431 0 .639C20.577 16.49 16.64 19.5 12 19.5c-4.638 0-8.573-3.007-9.963-7.178zM15 12a3 3 0 11-6 0 3 3 0 016 0z"/></svg><svg class="i" style="left:1608.99px;top:516.13px;width:20.4px;height:20.4px;" viewBox="0 0 24 24" fill="none" stroke="#64748b" stroke-width="1.6" stroke-linecap="round" stroke-linejoin="round"><path d="M16.862 4.487l1.687-1.688a1.875 1.875 0 112.652 2.652L10.582 16.07a4.5 4.5 0 01-1.897 1.13L6 18l.8-2.685a4.5 4.5 0 011.13-1.897l8.932-8.931zm0 0L19.5 7.125M18 14v4.75A2.25 2.25 0 0115.75 21H5.25A2.25 2.25 0 013 18.75V8.25A2.25 2.25 0 015.25 6H10"/></svg><svg class="i" style="left:1639.85px;top:516.1px;width:20.4px;height:20.4px;" viewBox="0 0 24 24" fill="none" stroke="#64748b" stroke-width="1.6" stroke-linecap="round" stroke-linejoin="round"><path d="M14.74 9l-.346 9m-4.788 0L9.26 9m9.968-3.21c.342.052.682.107 1.022.166m-1.022-.165L18.16 19.673a2.25 2.25 0 01-2.244 2.077H8.084a2.25 2.25 0 01-2.244-2.077L4.772 5.79m14.456 0a48.108 48.108 0 00-3.478-.397m-12 .562c.34-.059.68-.114 1.022-.165m0 0a48.11 48.11 0 013.478-.397m7.5 0v-.916c0-1.18-.91-2.164-2.09-2.201a51.964 51.964 0 00-3.32 0c-1.18.037-2.09 1.022-2.09 2.201v.916m7.5 0a48.667 48.667 0 00-7.5 0"/></svg><div class="a" style="left:231px;top:593.30px;width:1441px;height:1px;background:#f1f4f8"></div><div class="a" style="left:248.1px;top:564.2px;width:13.8px;height:13.8px;border:1.3px solid #cbcfd4;border-radius:3px;background:#fff"></div><div class="t" style="left:285.20px;top:564.78px;font-size:12.3px;color:#4a9fe0;font-weight:bold;letter-spacing:-0.3px;">85</div><svg class="i" style="left:324px;top:557.30px;width:27.6px;height:27.6px" viewBox="0 0 28 28"><defs><clipPath id="c6"><circle cx="14" cy="14" r="14"/></clipPath><filter id="f6" x="-10%" y="-10%" width="120%" height="120%"><feGaussianBlur stdDeviation="0.45"/></filter></defs><g clip-path="url(#c6)"><g filter="url(#f6)"><rect x="0" y="0" width="28" height="28" fill="#c8c4be"/><rect x="18" y="0" width="10" height="28" fill="#d8d6d2"/><rect x="1" y="14" width="5" height="6" fill="#d69ac0"/><ellipse cx="14" cy="3.5" rx="2.4" ry="2.8" fill="#3a2a22"/><path d="M9 5.5h10l1 6.5H9z" fill="#f3f3f3"/><path d="M11 11.5h9l1 16.5H11z" fill="#141416"/></g></g></svg><div class="t" style="left:413.50px;top:564.78px;font-size:12.3px;color:#64748b;">2099</div><div class="t" style="left:499.70px;top:564.78px;font-size:12.3px;color:#64748b;">650.00</div><div class="a" style="left:603.7px;top:571px;width:11.6px;height:2px;background:#bfc6d1"></div><div class="t" style="left:629.00px;top:564.78px;font-size:12.3px;color:#4a9fe0;font-weight:bold;letter-spacing:-0.39px;">Спідниці</div><div class="a" style="left:714.0px;top:571px;width:11.6px;height:2px;background:#bfc6d1"></div><div class="t" style="left:778.30px;top:564.78px;font-size:12.3px;color:#64748b;">Skirt Mary</div><div class="t" style="left:936.50px;top:564.78px;font-size:12.3px;color:#64748b;">Спідниця Mary</div><div class="t" style="left:1100.00px;top:564.78px;font-size:12.3px;color:#64748b;">Юбка Mary</div><svg class="i" style="left:1252px;top:562.80px;width:15px;height:15px" viewBox="0 0 15 15"><path d="M1.4 1.4L13.6 13.6M13.6 1.4L1.4 13.6" stroke="#dc2b1e" stroke-width="3.2"/></svg><div class="a" style="left:1325.7px;top:571px;width:11.6px;height:2px;background:#bfc6d1"></div><svg class="i" style="left:1550px;top:569.10px;width:16px;height:4px" viewBox="0 0 16 4" fill="#64748b"><circle cx="2.9" cy="2" r="1.2"/><circle cx="8.1" cy="2" r="1.2"/><circle cx="13.2" cy="2" r="1.2"/></svg><svg class="i" style="left:1579.05px;top:561.24px;width:20.2px;height:20.2px;" viewBox="0 0 24 24" fill="none" stroke="#64748b" stroke-width="1.6" stroke-linecap="round" stroke-linejoin="round"><path d="M2.036 12.322a1.012 1.012 0 010-.639C3.423 7.51 7.36 4.5 12 4.5c4.638 0 8.573 3.007 9.963 7.178.07.207.07.431 0 .639C20.577 16.49 16.64 19.5 12 19.5c-4.638 0-8.573-3.007-9.963-7.178zM15 12a3 3 0 11-6 0 3 3 0 016 0z"/></svg><svg class="i" style="left:1608.99px;top:561.23px;width:20.4px;height:20.4px;" viewBox="0 0 24 24" fill="none" stroke="#64748b" stroke-width="1.6" stroke-linecap="round" stroke-linejoin="round"><path d="M16.862 4.487l1.687-1.688a1.875 1.875 0 112.652 2.652L10.582 16.07a4.5 4.5 0 01-1.897 1.13L6 18l.8-2.685a4.5 4.5 0 011.13-1.897l8.932-8.931zm0 0L19.5 7.125M18 14v4.75A2.25 2.25 0 0115.75 21H5.25A2.25 2.25 0 013 18.75V8.25A2.25 2.25 0 015.25 6H10"/></svg><svg class="i" style="left:1639.85px;top:561.2px;width:20.4px;height:20.4px;" viewBox="0 0 24 24" fill="none" stroke="#64748b" stroke-width="1.6" stroke-linecap="round" stroke-linejoin="round"><path d="M14.74 9l-.346 9m-4.788 0L9.26 9m9.968-3.21c.342.052.682.107 1.022.166m-1.022-.165L18.16 19.673a2.25 2.25 0 01-2.244 2.077H8.084a2.25 2.25 0 01-2.244-2.077L4.772 5.79m14.456 0a48.108 48.108 0 00-3.478-.397m-12 .562c.34-.059.68-.114 1.022-.165m0 0a48.11 48.11 0 013.478-.397m7.5 0v-.916c0-1.18-.91-2.164-2.09-2.201a51.964 51.964 0 00-3.32 0c-1.18.037-2.09 1.022-2.09 2.201v.916m7.5 0a48.667 48.667 0 00-7.5 0"/></svg><div class="a" style="left:231px;top:638.40px;width:1441px;height:1px;background:#f1f4f8"></div><div class="a" style="left:248.1px;top:609.3px;width:13.8px;height:13.8px;border:1.3px solid #cbcfd4;border-radius:3px;background:#fff"></div><div class="t" style="left:285.20px;top:609.88px;font-size:12.3px;color:#4a9fe0;font-weight:bold;letter-spacing:-0.3px;">84</div><svg class="i" style="left:324px;top:602.40px;width:27.6px;height:27.6px" viewBox="0 0 28 28"><defs><clipPath id="c7"><circle cx="14" cy="14" r="14"/></clipPath><filter id="f7" x="-10%" y="-10%" width="120%" height="120%"><feGaussianBlur stdDeviation="0.45"/></filter></defs><g clip-path="url(#c7)"><g filter="url(#f7)"><rect x="0" y="0" width="28" height="28" fill="#cfcac3"/><rect x="0" y="18" width="28" height="10" fill="#b9b5b0"/><rect x="8" y="0" width="3" height="6" fill="#f0f0f0"/><path d="M9 0h11l1 24H8z" fill="#22252e"/><rect x="19" y="10" width="1.5" height="14" fill="#d0a88e"/><ellipse cx="14" cy="25.5" rx="2" ry="1.2" fill="#f4f4f4"/></g></g></svg><div class="t" style="left:413.50px;top:609.88px;font-size:12.3px;color:#64748b;">2114</div><div class="t" style="left:499.70px;top:609.88px;font-size:12.3px;color:#64748b;">500.00</div><div class="a" style="left:603.7px;top:616px;width:11.6px;height:2px;background:#bfc6d1"></div><div class="t" style="left:629.00px;top:609.88px;font-size:12.3px;color:#4a9fe0;font-weight:bold;letter-spacing:-0.39px;">Спідниці</div><div class="a" style="left:714.0px;top:616px;width:11.6px;height:2px;background:#bfc6d1"></div><div class="t" style="left:778.30px;top:609.88px;font-size:12.3px;color:#64748b;">Skirt Max</div><div class="t" style="left:936.50px;top:609.88px;font-size:12.3px;color:#64748b;">Спідниця Max</div><div class="t" style="left:1100.00px;top:609.88px;font-size:12.3px;color:#64748b;">Юбка Max</div><svg class="i" style="left:1252px;top:607.90px;width:15px;height:15px" viewBox="0 0 15 15"><path d="M1.4 1.4L13.6 13.6M13.6 1.4L1.4 13.6" stroke="#dc2b1e" stroke-width="3.2"/></svg><div class="a" style="left:1325.7px;top:616px;width:11.6px;height:2px;background:#bfc6d1"></div><svg class="i" style="left:1550px;top:614.20px;width:16px;height:4px" viewBox="0 0 16 4" fill="#64748b"><circle cx="2.9" cy="2" r="1.2"/><circle cx="8.1" cy="2" r="1.2"/><circle cx="13.2" cy="2" r="1.2"/></svg><svg class="i" style="left:1579.05px;top:606.3399999999999px;width:20.2px;height:20.2px;" viewBox="0 0 24 24" fill="none" stroke="#64748b" stroke-width="1.6" stroke-linecap="round" stroke-linejoin="round"><path d="M2.036 12.322a1.012 1.012 0 010-.639C3.423 7.51 7.36 4.5 12 4.5c4.638 0 8.573 3.007 9.963 7.178.07.207.07.431 0 .639C20.577 16.49 16.64 19.5 12 19.5c-4.638 0-8.573-3.007-9.963-7.178zM15 12a3 3 0 11-6 0 3 3 0 016 0z"/></svg><svg class="i" style="left:1608.99px;top:606.3299999999999px;width:20.4px;height:20.4px;" viewBox="0 0 24 24" fill="none" stroke="#64748b" stroke-width="1.6" stroke-linecap="round" stroke-linejoin="round"><path d="M16.862 4.487l1.687-1.688a1.875 1.875 0 112.652 2.652L10.582 16.07a4.5 4.5 0 01-1.897 1.13L6 18l.8-2.685a4.5 4.5 0 011.13-1.897l8.932-8.931zm0 0L19.5 7.125M18 14v4.75A2.25 2.25 0 0115.75 21H5.25A2.25 2.25 0 013 18.75V8.25A2.25 2.25 0 015.25 6H10"/></svg><svg class="i" style="left:1639.85px;top:606.3px;width:20.4px;height:20.4px;" viewBox="0 0 24 24" fill="none" stroke="#64748b" stroke-width="1.6" stroke-linecap="round" stroke-linejoin="round"><path d="M14.74 9l-.346 9m-4.788 0L9.26 9m9.968-3.21c.342.052.682.107 1.022.166m-1.022-.165L18.16 19.673a2.25 2.25 0 01-2.244 2.077H8.084a2.25 2.25 0 01-2.244-2.077L4.772 5.79m14.456 0a48.108 48.108 0 00-3.478-.397m-12 .562c.34-.059.68-.114 1.022-.165m0 0a48.11 48.11 0 013.478-.397m7.5 0v-.916c0-1.18-.91-2.164-2.09-2.201a51.964 51.964 0 00-3.32 0c-1.18.037-2.09 1.022-2.09 2.201v.916m7.5 0a48.667 48.667 0 00-7.5 0"/></svg><div class="a" style="left:231px;top:683.50px;width:1441px;height:1px;background:#f1f4f8"></div><div class="a" style="left:248.1px;top:654.4000000000001px;width:13.8px;height:13.8px;border:1.3px solid #cbcfd4;border-radius:3px;background:#fff"></div><div class="t" style="left:285.20px;top:654.98px;font-size:12.3px;color:#4a9fe0;font-weight:bold;letter-spacing:-0.3px;">83</div><svg class="i" style="left:324px;top:647.50px;width:27.6px;height:27.6px" viewBox="0 0 28 28"><defs><clipPath id="c8"><circle cx="14" cy="14" r="14"/></clipPath><filter id="f8" x="-10%" y="-10%" width="120%" height="120%"><feGaussianBlur stdDeviation="0.45"/></filter></defs><g clip-path="url(#c8)"><g filter="url(#f8)"><rect x="0" y="0" width="28" height="28" fill="#bbb8b3"/><rect x="0" y="0" width="28" height="6" fill="#8e8b86"/><rect x="0" y="11" width="28" height="5" fill="#ececec"/><ellipse cx="14.5" cy="6" rx="2" ry="2.4" fill="#3a2a24"/><path d="M11 7.5h7l.5 4h-8z" fill="#d8bad2"/><path d="M11.5 11.5h6l.5 13h-7z" fill="#7a1e4e"/><rect x="13" y="24" width="3" height="4" fill="#e8e8e8"/></g></g></svg><div class="t" style="left:413.50px;top:654.98px;font-size:12.3px;color:#64748b;">2124</div><div class="t" style="left:499.70px;top:654.98px;font-size:12.3px;color:#64748b;">500.00</div><div class="a" style="left:603.7px;top:661px;width:11.6px;height:2px;background:#bfc6d1"></div><div class="t" style="left:629.00px;top:654.98px;font-size:12.3px;color:#4a9fe0;font-weight:bold;letter-spacing:-0.39px;">Спідниці</div><div class="a" style="left:714.0px;top:661px;width:11.6px;height:2px;background:#bfc6d1"></div><div class="t" style="left:778.30px;top:654.98px;font-size:12.3px;color:#64748b;">Skirt Marron</div><div class="t" style="left:936.50px;top:654.98px;font-size:12.3px;color:#64748b;">Спідниця Marron</div><div class="t" style="left:1100.00px;top:654.98px;font-size:12.3px;color:#64748b;">Юбка Marron</div><svg class="i" style="left:1252px;top:653.00px;width:15px;height:15px" viewBox="0 0 15 15"><path d="M1.4 1.4L13.6 13.6M13.6 1.4L1.4 13.6" stroke="#dc2b1e" stroke-width="3.2"/></svg><div class="a" style="left:1325.7px;top:661px;width:11.6px;height:2px;background:#bfc6d1"></div><svg class="i" style="left:1550px;top:659.30px;width:16px;height:4px" viewBox="0 0 16 4" fill="#64748b"><circle cx="2.9" cy="2" r="1.2"/><circle cx="8.1" cy="2" r="1.2"/><circle cx="13.2" cy="2" r="1.2"/></svg><svg class="i" style="left:1579.05px;top:651.44px;width:20.2px;height:20.2px;" viewBox="0 0 24 24" fill="none" stroke="#64748b" stroke-width="1.6" stroke-linecap="round" stroke-linejoin="round"><path d="M2.036 12.322a1.012 1.012 0 010-.639C3.423 7.51 7.36 4.5 12 4.5c4.638 0 8.573 3.007 9.963 7.178.07.207.07.431 0 .639C20.577 16.49 16.64 19.5 12 19.5c-4.638 0-8.573-3.007-9.963-7.178zM15 12a3 3 0 11-6 0 3 3 0 016 0z"/></svg><svg class="i" style="left:1608.99px;top:651.4300000000001px;width:20.4px;height:20.4px;" viewBox="0 0 24 24" fill="none" stroke="#64748b" stroke-width="1.6" stroke-linecap="round" stroke-linejoin="round"><path d="M16.862 4.487l1.687-1.688a1.875 1.875 0 112.652 2.652L10.582 16.07a4.5 4.5 0 01-1.897 1.13L6 18l.8-2.685a4.5 4.5 0 011.13-1.897l8.932-8.931zm0 0L19.5 7.125M18 14v4.75A2.25 2.25 0 0115.75 21H5.25A2.25 2.25 0 013 18.75V8.25A2.25 2.25 0 015.25 6H10"/></svg><svg class="i" style="left:1639.85px;top:651.4000000000001px;width:20.4px;height:20.4px;" viewBox="0 0 24 24" fill="none" stroke="#64748b" stroke-width="1.6" stroke-linecap="round" stroke-linejoin="round"><path d="M14.74 9l-.346 9m-4.788 0L9.26 9m9.968-3.21c.342.052.682.107 1.022.166m-1.022-.165L18.16 19.673a2.25 2.25 0 01-2.244 2.077H8.084a2.25 2.25 0 01-2.244-2.077L4.772 5.79m14.456 0a48.108 48.108 0 00-3.478-.397m-12 .562c.34-.059.68-.114 1.022-.165m0 0a48.11 48.11 0 013.478-.397m7.5 0v-.916c0-1.18-.91-2.164-2.09-2.201a51.964 51.964 0 00-3.32 0c-1.18.037-2.09 1.022-2.09 2.201v.916m7.5 0a48.667 48.667 0 00-7.5 0"/></svg><div class="a" style="left:231px;top:728.60px;width:1441px;height:1px;background:#f1f4f8"></div><div class="a" style="left:248.1px;top:699.5px;width:13.8px;height:13.8px;border:1.3px solid #cbcfd4;border-radius:3px;background:#fff"></div><div class="t" style="left:285.20px;top:700.08px;font-size:12.3px;color:#4a9fe0;font-weight:bold;letter-spacing:-0.3px;">82</div><svg class="i" style="left:324px;top:692.60px;width:27.6px;height:27.6px" viewBox="0 0 28 28"><defs><clipPath id="c9"><circle cx="14" cy="14" r="14"/></clipPath><filter id="f9" x="-10%" y="-10%" width="120%" height="120%"><feGaussianBlur stdDeviation="0.45"/></filter></defs><g clip-path="url(#c9)"><g filter="url(#f9)"><rect x="0" y="0" width="28" height="28" fill="#e2e2e2"/><rect x="2" y="6" width="6" height="6" fill="#4a4a48"/><rect x="20" y="18" width="8" height="10" fill="#9a9a9a"/><ellipse cx="14.5" cy="3.5" rx="2.6" ry="3.2" fill="#8a6240"/><path d="M10 5.5h11l-.5 6.5h-10z" fill="#f4f4f4"/><path d="M11 12h8l1 8h-10z" fill="#1b1b1d"/><rect x="12" y="20" width="2.4" height="8" fill="#d2a88c"/><rect x="15.5" y="20" width="2.4" height="8" fill="#c99c80"/></g></g></svg><div class="t" style="left:413.50px;top:700.08px;font-size:12.3px;color:#64748b;">1131</div><div class="t" style="left:499.70px;top:700.08px;font-size:12.3px;color:#64748b;">350.00</div><div class="a" style="left:603.7px;top:706px;width:11.6px;height:2px;background:#bfc6d1"></div><div class="t" style="left:629.00px;top:700.08px;font-size:12.3px;color:#4a9fe0;font-weight:bold;letter-spacing:-0.39px;">Спідниці</div><div class="a" style="left:714.0px;top:706px;width:11.6px;height:2px;background:#bfc6d1"></div><div class="t" style="left:778.30px;top:700.08px;font-size:12.3px;color:#64748b;">Skirt Mini</div><div class="t" style="left:936.50px;top:700.08px;font-size:12.3px;color:#64748b;">Спідниця Mini</div><div class="t" style="left:1100.00px;top:700.08px;font-size:12.3px;color:#64748b;">Юбка Mini</div><svg class="i" style="left:1252px;top:698.10px;width:15px;height:15px" viewBox="0 0 15 15"><path d="M1.4 1.4L13.6 13.6M13.6 1.4L1.4 13.6" stroke="#dc2b1e" stroke-width="3.2"/></svg><div class="a" style="left:1325.7px;top:706px;width:11.6px;height:2px;background:#bfc6d1"></div><svg class="i" style="left:1550px;top:704.40px;width:16px;height:4px" viewBox="0 0 16 4" fill="#64748b"><circle cx="2.9" cy="2" r="1.2"/><circle cx="8.1" cy="2" r="1.2"/><circle cx="13.2" cy="2" r="1.2"/></svg><svg class="i" style="left:1579.05px;top:696.54px;width:20.2px;height:20.2px;" viewBox="0 0 24 24" fill="none" stroke="#64748b" stroke-width="1.6" stroke-linecap="round" stroke-linejoin="round"><path d="M2.036 12.322a1.012 1.012 0 010-.639C3.423 7.51 7.36 4.5 12 4.5c4.638 0 8.573 3.007 9.963 7.178.07.207.07.431 0 .639C20.577 16.49 16.64 19.5 12 19.5c-4.638 0-8.573-3.007-9.963-7.178zM15 12a3 3 0 11-6 0 3 3 0 016 0z"/></svg><svg class="i" style="left:1608.99px;top:696.53px;width:20.4px;height:20.4px;" viewBox="0 0 24 24" fill="none" stroke="#64748b" stroke-width="1.6" stroke-linecap="round" stroke-linejoin="round"><path d="M16.862 4.487l1.687-1.688a1.875 1.875 0 112.652 2.652L10.582 16.07a4.5 4.5 0 01-1.897 1.13L6 18l.8-2.685a4.5 4.5 0 011.13-1.897l8.932-8.931zm0 0L19.5 7.125M18 14v4.75A2.25 2.25 0 0115.75 21H5.25A2.25 2.25 0 013 18.75V8.25A2.25 2.25 0 015.25 6H10"/></svg><svg class="i" style="left:1639.85px;top:696.5px;width:20.4px;height:20.4px;" viewBox="0 0 24 24" fill="none" stroke="#64748b" stroke-width="1.6" stroke-linecap="round" stroke-linejoin="round"><path d="M14.74 9l-.346 9m-4.788 0L9.26 9m9.968-3.21c.342.052.682.107 1.022.166m-1.022-.165L18.16 19.673a2.25 2.25 0 01-2.244 2.077H8.084a2.25 2.25 0 01-2.244-2.077L4.772 5.79m14.456 0a48.108 48.108 0 00-3.478-.397m-12 .562c.34-.059.68-.114 1.022-.165m0 0a48.11 48.11 0 013.478-.397m7.5 0v-.916c0-1.18-.91-2.164-2.09-2.201a51.964 51.964 0 00-3.32 0c-1.18.037-2.09 1.022-2.09 2.201v.916m7.5 0a48.667 48.667 0 00-7.5 0"/></svg><div class="a" style="left:231px;top:773.70px;width:1441px;height:1px;background:#f1f4f8"></div><div class="a" style="left:248.1px;top:744.6px;width:13.8px;height:13.8px;border:1.3px solid #cbcfd4;border-radius:3px;background:#fff"></div><div class="t" style="left:285.20px;top:745.18px;font-size:12.3px;color:#4a9fe0;font-weight:bold;letter-spacing:-0.3px;">81</div><svg class="i" style="left:324px;top:737.70px;width:27.6px;height:27.6px" viewBox="0 0 28 28"><defs><clipPath id="c10"><circle cx="14" cy="14" r="14"/></clipPath><filter id="f10" x="-10%" y="-10%" width="120%" height="120%"><feGaussianBlur stdDeviation="0.45"/></filter></defs><g clip-path="url(#c10)"><g filter="url(#f10)"><rect x="0" y="0" width="28" height="28" fill="#8e8d8a"/><rect x="0" y="0" width="28" height="10" fill="#a4a3a0"/><rect x="21" y="0" width="1.5" height="28" fill="#e2e2ea"/><ellipse cx="14" cy="2.5" rx="2.4" ry="2.8" fill="#8a6a4c"/><path d="M7 4h12l1 18H8z" fill="#86675a"/><rect x="12.5" y="5" width="2" height="7" fill="#f0f0f0"/><rect x="9.5" y="22" width="2" height="6" fill="#caa28a"/><rect x="12.5" y="22" width="2" height="6" fill="#c09880"/></g></g></svg><div class="t" style="left:413.50px;top:745.18px;font-size:12.3px;color:#64748b;">2075</div><div class="t" style="left:499.70px;top:745.18px;font-size:12.3px;color:#64748b;">600.00</div><div class="a" style="left:603.7px;top:751px;width:11.6px;height:2px;background:#bfc6d1"></div><div class="t" style="left:629.00px;top:745.18px;font-size:12.3px;color:#4a9fe0;font-weight:bold;letter-spacing:-0.39px;">Костюми</div><div class="a" style="left:714.0px;top:751px;width:11.6px;height:2px;background:#bfc6d1"></div><div class="t" style="left:778.30px;top:745.18px;font-size:12.3px;color:#64748b;">Suit Brown</div><div class="t" style="left:936.50px;top:745.18px;font-size:12.3px;color:#64748b;">Костюм Brown</div><div class="t" style="left:1100.00px;top:745.18px;font-size:12.3px;color:#64748b;">Костюм Brown</div><svg class="i" style="left:1252px;top:743.20px;width:15px;height:15px" viewBox="0 0 15 15"><path d="M1.4 1.4L13.6 13.6M13.6 1.4L1.4 13.6" stroke="#dc2b1e" stroke-width="3.2"/></svg><div class="a" style="left:1325.7px;top:751px;width:11.6px;height:2px;background:#bfc6d1"></div><svg class="i" style="left:1550px;top:749.50px;width:16px;height:4px" viewBox="0 0 16 4" fill="#64748b"><circle cx="2.9" cy="2" r="1.2"/><circle cx="8.1" cy="2" r="1.2"/><circle cx="13.2" cy="2" r="1.2"/></svg><svg class="i" style="left:1579.05px;top:741.64px;width:20.2px;height:20.2px;" viewBox="0 0 24 24" fill="none" stroke="#64748b" stroke-width="1.6" stroke-linecap="round" stroke-linejoin="round"><path d="M2.036 12.322a1.012 1.012 0 010-.639C3.423 7.51 7.36 4.5 12 4.5c4.638 0 8.573 3.007 9.963 7.178.07.207.07.431 0 .639C20.577 16.49 16.64 19.5 12 19.5c-4.638 0-8.573-3.007-9.963-7.178zM15 12a3 3 0 11-6 0 3 3 0 016 0z"/></svg><svg class="i" style="left:1608.99px;top:741.63px;width:20.4px;height:20.4px;" viewBox="0 0 24 24" fill="none" stroke="#64748b" stroke-width="1.6" stroke-linecap="round" stroke-linejoin="round"><path d="M16.862 4.487l1.687-1.688a1.875 1.875 0 112.652 2.652L10.582 16.07a4.5 4.5 0 01-1.897 1.13L6 18l.8-2.685a4.5 4.5 0 011.13-1.897l8.932-8.931zm0 0L19.5 7.125M18 14v4.75A2.25 2.25 0 0115.75 21H5.25A2.25 2.25 0 013 18.75V8.25A2.25 2.25 0 015.25 6H10"/></svg><svg class="i" style="left:1639.85px;top:741.6px;width:20.4px;height:20.4px;" viewBox="0 0 24 24" fill="none" stroke="#64748b" stroke-width="1.6" stroke-linecap="round" stroke-linejoin="round"><path d="M14.74 9l-.346 9m-4.788 0L9.26 9m9.968-3.21c.342.052.682.107 1.022.166m-1.022-.165L18.16 19.673a2.25 2.25 0 01-2.244 2.077H8.084a2.25 2.25 0 01-2.244-2.077L4.772 5.79m14.456 0a48.108 48.108 0 00-3.478-.397m-12 .562c.34-.059.68-.114 1.022-.165m0 0a48.11 48.11 0 013.478-.397m7.5 0v-.916c0-1.18-.91-2.164-2.09-2.201a51.964 51.964 0 00-3.32 0c-1.18.037-2.09 1.022-2.09 2.201v.916m7.5 0a48.667 48.667 0 00-7.5 0"/></svg><div class="a" style="left:231px;top:818.80px;width:1441px;height:1px;background:#f1f4f8"></div><div class="a" style="left:248.1px;top:789.7px;width:13.8px;height:13.8px;border:1.3px solid #cbcfd4;border-radius:3px;background:#fff"></div><div class="t" style="left:285.20px;top:790.28px;font-size:12.3px;color:#4a9fe0;font-weight:bold;letter-spacing:-0.3px;">80</div><svg class="i" style="left:324px;top:782.80px;width:27.6px;height:27.6px" viewBox="0 0 28 28"><defs><clipPath id="c11"><circle cx="14" cy="14" r="14"/></clipPath><filter id="f11" x="-10%" y="-10%" width="120%" height="120%"><feGaussianBlur stdDeviation="0.45"/></filter></defs><g clip-path="url(#c11)"><g filter="url(#f11)"><rect x="0" y="0" width="28" height="28" fill="#d6d6d6"/><ellipse cx="14.5" cy="4" rx="5" ry="4" fill="#b68e5e"/><ellipse cx="14.5" cy="5" rx="2.6" ry="3" fill="#d8b8a0"/><path d="M4 9h20l1 19H3z" fill="#6d80c2"/><rect x="13" y="10" width="3" height="10" fill="#f4f4f4"/></g></g></svg><div class="t" style="left:413.50px;top:790.28px;font-size:12.3px;color:#64748b;">2093</div><div class="t" style="left:499.70px;top:790.28px;font-size:12.3px;color:#64748b;">700.00</div><div class="a" style="left:603.7px;top:796px;width:11.6px;height:2px;background:#bfc6d1"></div><div class="t" style="left:629.00px;top:790.28px;font-size:12.3px;color:#4a9fe0;font-weight:bold;letter-spacing:-0.39px;">Костюми</div><div class="a" style="left:714.0px;top:796px;width:11.6px;height:2px;background:#bfc6d1"></div><div class="t" style="left:778.30px;top:790.28px;font-size:12.3px;color:#64748b;">Suit Blue</div><div class="t" style="left:936.50px;top:790.28px;font-size:12.3px;color:#64748b;">Костюм Blue</div><div class="t" style="left:1100.00px;top:790.28px;font-size:12.3px;color:#64748b;">Костюм Blue</div><svg class="i" style="left:1252px;top:788.30px;width:15px;height:15px" viewBox="0 0 15 15"><path d="M1.4 1.4L13.6 13.6M13.6 1.4L1.4 13.6" stroke="#dc2b1e" stroke-width="3.2"/></svg><div class="a" style="left:1325.7px;top:796px;width:11.6px;height:2px;background:#bfc6d1"></div><svg class="i" style="left:1550px;top:794.60px;width:16px;height:4px" viewBox="0 0 16 4" fill="#64748b"><circle cx="2.9" cy="2" r="1.2"/><circle cx="8.1" cy="2" r="1.2"/><circle cx="13.2" cy="2" r="1.2"/></svg><svg class="i" style="left:1579.05px;top:786.74px;width:20.2px;height:20.2px;" viewBox="0 0 24 24" fill="none" stroke="#64748b" stroke-width="1.6" stroke-linecap="round" stroke-linejoin="round"><path d="M2.036 12.322a1.012 1.012 0 010-.639C3.423 7.51 7.36 4.5 12 4.5c4.638 0 8.573 3.007 9.963 7.178.07.207.07.431 0 .639C20.577 16.49 16.64 19.5 12 19.5c-4.638 0-8.573-3.007-9.963-7.178zM15 12a3 3 0 11-6 0 3 3 0 016 0z"/></svg><svg class="i" style="left:1608.99px;top:786.73px;width:20.4px;height:20.4px;" viewBox="0 0 24 24" fill="none" stroke="#64748b" stroke-width="1.6" stroke-linecap="round" stroke-linejoin="round"><path d="M16.862 4.487l1.687-1.688a1.875 1.875 0 112.652 2.652L10.582 16.07a4.5 4.5 0 01-1.897 1.13L6 18l.8-2.685a4.5 4.5 0 011.13-1.897l8.932-8.931zm0 0L19.5 7.125M18 14v4.75A2.25 2.25 0 0115.75 21H5.25A2.25 2.25 0 013 18.75V8.25A2.25 2.25 0 015.25 6H10"/></svg><svg class="i" style="left:1639.85px;top:786.7px;width:20.4px;height:20.4px;" viewBox="0 0 24 24" fill="none" stroke="#64748b" stroke-width="1.6" stroke-linecap="round" stroke-linejoin="round"><path d="M14.74 9l-.346 9m-4.788 0L9.26 9m9.968-3.21c.342.052.682.107 1.022.166m-1.022-.165L18.16 19.673a2.25 2.25 0 01-2.244 2.077H8.084a2.25 2.25 0 01-2.244-2.077L4.772 5.79m14.456 0a48.108 48.108 0 00-3.478-.397m-12 .562c.34-.059.68-.114 1.022-.165m0 0a48.11 48.11 0 013.478-.397m7.5 0v-.916c0-1.18-.91-2.164-2.09-2.201a51.964 51.964 0 00-3.32 0c-1.18.037-2.09 1.022-2.09 2.201v.916m7.5 0a48.667 48.667 0 00-7.5 0"/></svg><div class="a" style="left:231px;top:863.90px;width:1441px;height:1px;background:#f1f4f8"></div><div class="a" style="left:248.1px;top:834.8000000000001px;width:13.8px;height:13.8px;border:1.3px solid #cbcfd4;border-radius:3px;background:#fff"></div><div class="t" style="left:285.20px;top:835.38px;font-size:12.3px;color:#4a9fe0;font-weight:bold;letter-spacing:-0.3px;">79</div><svg class="i" style="left:324px;top:827.90px;width:27.6px;height:27.6px" viewBox="0 0 28 28"><defs><clipPath id="c12"><circle cx="14" cy="14" r="14"/></clipPath><filter id="f12" x="-10%" y="-10%" width="120%" height="120%"><feGaussianBlur stdDeviation="0.45"/></filter></defs><g clip-path="url(#c12)"><g filter="url(#f12)"><rect x="0" y="0" width="28" height="28" fill="#9d9d9b"/><rect x="0" y="16" width="28" height="12" fill="#b4b4b2"/><rect x="21" y="0" width="1.5" height="28" fill="#e4e4e6"/><rect x="9" y="1" width="2" height="10" fill="#b8946c"/><rect x="17" y="1" width="2" height="10" fill="#b08c64"/><path d="M10 1h8l1 27h-9z" fill="#4d586b"/><rect x="12" y="8" width="2" height="3" fill="#7a889e"/></g></g></svg><div class="t" style="left:413.50px;top:835.38px;font-size:12.3px;color:#64748b;">1181</div><div class="t" style="left:499.70px;top:835.38px;font-size:12.3px;color:#64748b;">330.00</div><div class="a" style="left:603.7px;top:841px;width:11.6px;height:2px;background:#bfc6d1"></div><div class="t" style="left:629.00px;top:835.38px;font-size:12.3px;color:#4a9fe0;font-weight:bold;letter-spacing:-0.39px;">Костюми</div><div class="a" style="left:714.0px;top:841px;width:11.6px;height:2px;background:#bfc6d1"></div><div class="t" style="left:778.30px;top:835.38px;font-size:12.3px;color:#64748b;">Suit Grey</div><div class="t" style="left:936.50px;top:835.38px;font-size:12.3px;color:#64748b;">Костюм Grey</div><div class="t" style="left:1100.00px;top:835.38px;font-size:12.3px;color:#64748b;">Костюм Grey</div><svg class="i" style="left:1252px;top:833.40px;width:15px;height:15px" viewBox="0 0 15 15"><path d="M1.4 1.4L13.6 13.6M13.6 1.4L1.4 13.6" stroke="#dc2b1e" stroke-width="3.2"/></svg><div class="a" style="left:1325.7px;top:841px;width:11.6px;height:2px;background:#bfc6d1"></div><svg class="i" style="left:1550px;top:839.70px;width:16px;height:4px" viewBox="0 0 16 4" fill="#64748b"><circle cx="2.9" cy="2" r="1.2"/><circle cx="8.1" cy="2" r="1.2"/><circle cx="13.2" cy="2" r="1.2"/></svg><svg class="i" style="left:1579.05px;top:831.84px;width:20.2px;height:20.2px;" viewBox="0 0 24 24" fill="none" stroke="#64748b" stroke-width="1.6" stroke-linecap="round" stroke-linejoin="round"><path d="M2.036 12.322a1.012 1.012 0 010-.639C3.423 7.51 7.36 4.5 12 4.5c4.638 0 8.573 3.007 9.963 7.178.07.207.07.431 0 .639C20.577 16.49 16.64 19.5 12 19.5c-4.638 0-8.573-3.007-9.963-7.178zM15 12a3 3 0 11-6 0 3 3 0 016 0z"/></svg><svg class="i" style="left:1608.99px;top:831.83px;width:20.4px;height:20.4px;" viewBox="0 0 24 24" fill="none" stroke="#64748b" stroke-width="1.6" stroke-linecap="round" stroke-linejoin="round"><path d="M16.862 4.487l1.687-1.688a1.875 1.875 0 112.652 2.652L10.582 16.07a4.5 4.5 0 01-1.897 1.13L6 18l.8-2.685a4.5 4.5 0 011.13-1.897l8.932-8.931zm0 0L19.5 7.125M18 14v4.75A2.25 2.25 0 0115.75 21H5.25A2.25 2.25 0 013 18.75V8.25A2.25 2.25 0 015.25 6H10"/></svg><svg class="i" style="left:1639.85px;top:831.8000000000001px;width:20.4px;height:20.4px;" viewBox="0 0 24 24" fill="none" stroke="#64748b" stroke-width="1.6" stroke-linecap="round" stroke-linejoin="round"><path d="M14.74 9l-.346 9m-4.788 0L9.26 9m9.968-3.21c.342.052.682.107 1.022.166m-1.022-.165L18.16 19.673a2.25 2.25 0 01-2.244 2.077H8.084a2.25 2.25 0 01-2.244-2.077L4.772 5.79m14.456 0a48.108 48.108 0 00-3.478-.397m-12 .562c.34-.059.68-.114 1.022-.165m0 0a48.11 48.11 0 013.478-.397m7.5 0v-.916c0-1.18-.91-2.164-2.09-2.201a51.964 51.964 0 00-3.32 0c-1.18.037-2.09 1.022-2.09 2.201v.916m7.5 0a48.667 48.667 0 00-7.5 0"/></svg><div class="a" style="left:231px;top:909.00px;width:1441px;height:1px;background:#f1f4f8"></div><div class="a" style="left:248.1px;top:879.9000000000001px;width:13.8px;height:13.8px;border:1.3px solid #cbcfd4;border-radius:3px;background:#fff"></div><div class="t" style="left:285.20px;top:880.48px;font-size:12.3px;color:#4a9fe0;font-weight:bold;letter-spacing:-0.3px;">78</div><svg class="i" style="left:324px;top:873.00px;width:27.6px;height:27.6px" viewBox="0 0 28 28"><defs><clipPath id="c13"><circle cx="14" cy="14" r="14"/></clipPath><filter id="f13" x="-10%" y="-10%" width="120%" height="120%"><feGaussianBlur stdDeviation="0.45"/></filter></defs><g clip-path="url(#c13)"><g filter="url(#f13)"><rect x="0" y="0" width="28" height="28" fill="#d3d3d5"/><rect x="0" y="6" width="7" height="22" fill="#e6e6e8"/><rect x="22" y="0" width="6" height="28" fill="#bebec2"/><rect x="16.5" y="0" width="3" height="9" fill="#b89070"/><path d="M8 1h12l1 27H8z" fill="#1f2a52"/><rect x="6" y="20" width="5" height="5" fill="#a8c4e0"/></g></g></svg><div class="t" style="left:413.50px;top:880.48px;font-size:12.3px;color:#64748b;">2108</div><div class="t" style="left:499.70px;top:880.48px;font-size:12.3px;color:#64748b;">700.00</div><div class="a" style="left:603.7px;top:886px;width:11.6px;height:2px;background:#bfc6d1"></div><div class="t" style="left:629.00px;top:880.48px;font-size:12.3px;color:#4a9fe0;font-weight:bold;letter-spacing:-0.39px;">Костюми</div><div class="a" style="left:714.0px;top:886px;width:11.6px;height:2px;background:#bfc6d1"></div><div class="t" style="left:778.30px;top:880.48px;font-size:12.3px;color:#64748b;">Suit Black</div><div class="t" style="left:936.50px;top:880.48px;font-size:12.3px;color:#64748b;">Костюм Black</div><div class="t" style="left:1100.00px;top:880.48px;font-size:12.3px;color:#64748b;">Костюм Black</div><svg class="i" style="left:1252px;top:878.50px;width:15px;height:15px" viewBox="0 0 15 15"><path d="M1.4 1.4L13.6 13.6M13.6 1.4L1.4 13.6" stroke="#dc2b1e" stroke-width="3.2"/></svg><div class="a" style="left:1325.7px;top:886px;width:11.6px;height:2px;background:#bfc6d1"></div><svg class="i" style="left:1550px;top:884.80px;width:16px;height:4px" viewBox="0 0 16 4" fill="#64748b"><circle cx="2.9" cy="2" r="1.2"/><circle cx="8.1" cy="2" r="1.2"/><circle cx="13.2" cy="2" r="1.2"/></svg><svg class="i" style="left:1579.05px;top:876.94px;width:20.2px;height:20.2px;" viewBox="0 0 24 24" fill="none" stroke="#64748b" stroke-width="1.6" stroke-linecap="round" stroke-linejoin="round"><path d="M2.036 12.322a1.012 1.012 0 010-.639C3.423 7.51 7.36 4.5 12 4.5c4.638 0 8.573 3.007 9.963 7.178.07.207.07.431 0 .639C20.577 16.49 16.64 19.5 12 19.5c-4.638 0-8.573-3.007-9.963-7.178zM15 12a3 3 0 11-6 0 3 3 0 016 0z"/></svg><svg class="i" style="left:1608.99px;top:876.9300000000001px;width:20.4px;height:20.4px;" viewBox="0 0 24 24" fill="none" stroke="#64748b" stroke-width="1.6" stroke-linecap="round" stroke-linejoin="round"><path d="M16.862 4.487l1.687-1.688a1.875 1.875 0 112.652 2.652L10.582 16.07a4.5 4.5 0 01-1.897 1.13L6 18l.8-2.685a4.5 4.5 0 011.13-1.897l8.932-8.931zm0 0L19.5 7.125M18 14v4.75A2.25 2.25 0 0115.75 21H5.25A2.25 2.25 0 013 18.75V8.25A2.25 2.25 0 015.25 6H10"/></svg><svg class="i" style="left:1639.85px;top:876.9000000000001px;width:20.4px;height:20.4px;" viewBox="0 0 24 24" fill="none" stroke="#64748b" stroke-width="1.6" stroke-linecap="round" stroke-linejoin="round"><path d="M14.74 9l-.346 9m-4.788 0L9.26 9m9.968-3.21c.342.052.682.107 1.022.166m-1.022-.165L18.16 19.673a2.25 2.25 0 01-2.244 2.077H8.084a2.25 2.25 0 01-2.244-2.077L4.772 5.79m14.456 0a48.108 48.108 0 00-3.478-.397m-12 .562c.34-.059.68-.114 1.022-.165m0 0a48.11 48.11 0 013.478-.397m7.5 0v-.916c0-1.18-.91-2.164-2.09-2.201a51.964 51.964 0 00-3.32 0c-1.18.037-2.09 1.022-2.09 2.201v.916m7.5 0a48.667 48.667 0 00-7.5 0"/></svg><div class="a" style="left:0;top:0;width:1709px;height:1px;background:#000"></div><div class="a" style="left:1707px;top:0;width:1px;height:895px;background:#fff"></div><div class="a" style="left:1708px;top:0;width:1px;height:895px;background:#000"></div></body></html>
